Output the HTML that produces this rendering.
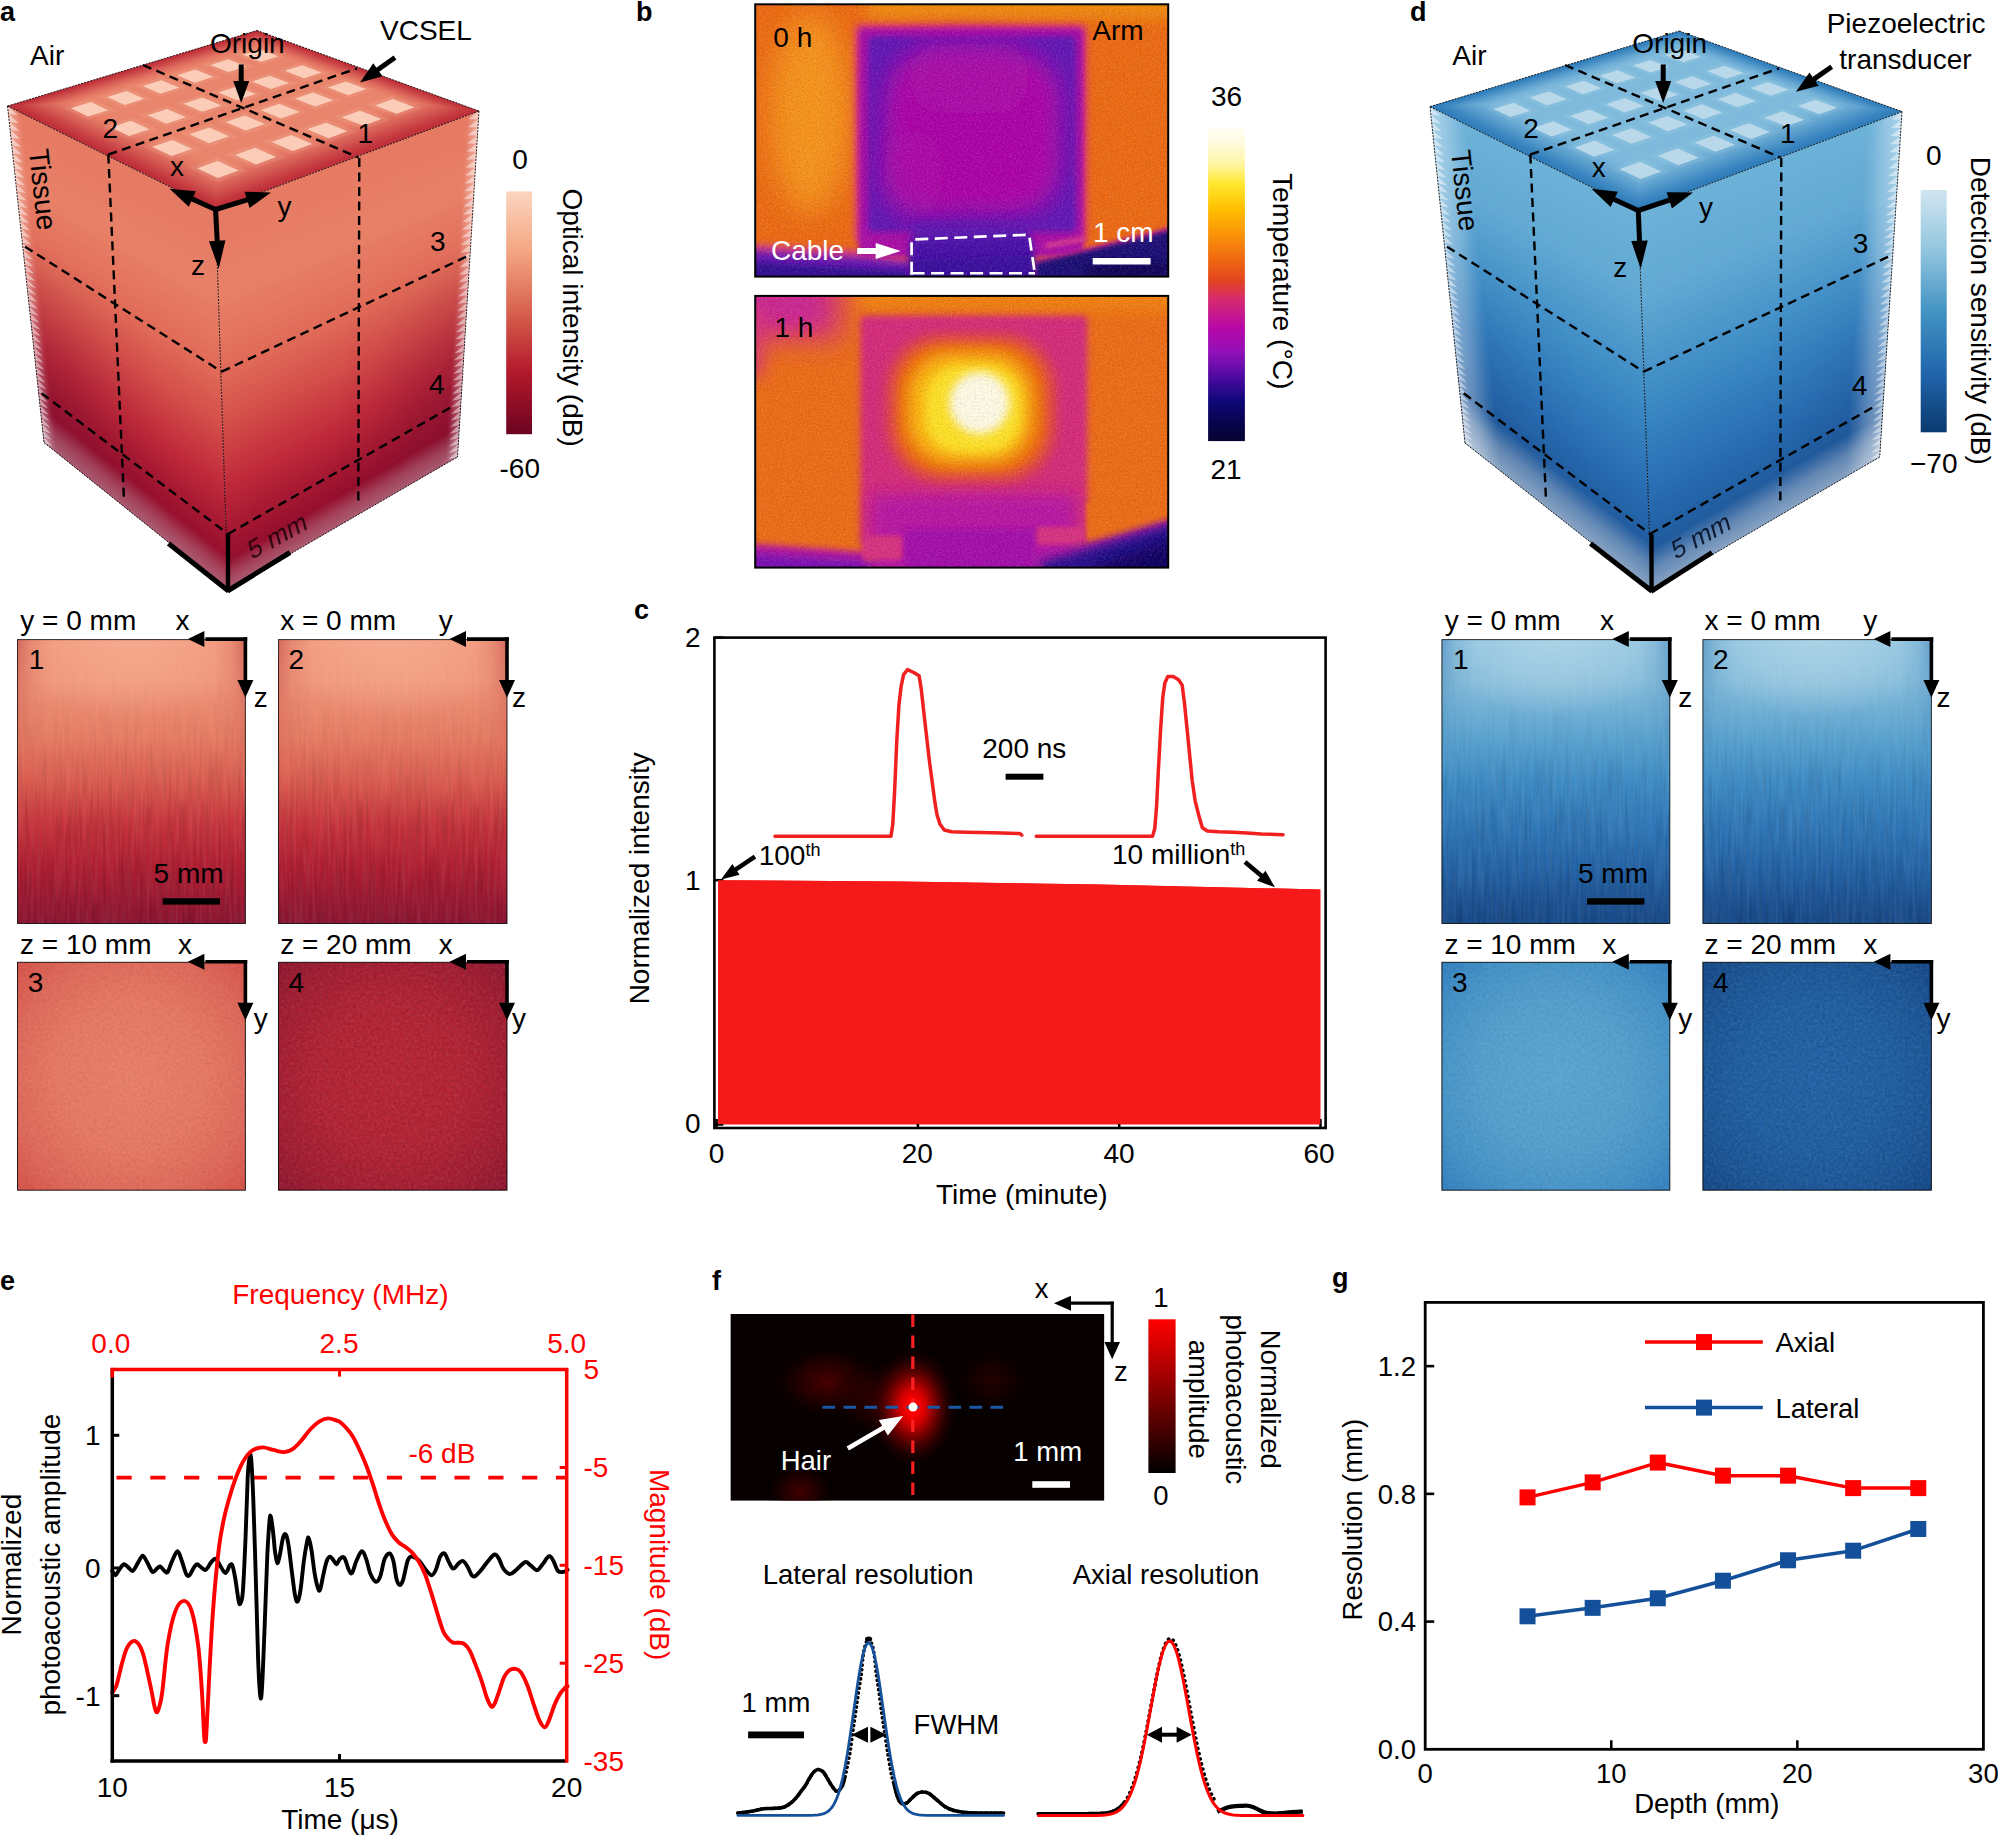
<!DOCTYPE html>
<html><head><meta charset="utf-8"><title>Figure</title>
<style>html,body{margin:0;padding:0;background:#fff}svg{display:block}text{font-family:"Liberation Sans",Arial,sans-serif}</style></head>
<body>
<svg width="1998" height="1837" viewBox="0 0 1998 1837">
<defs>
<linearGradient id="shal" x1="25.75" y1="274.25" x2="145.05" y2="261.31" gradientUnits="userSpaceOnUse"><stop offset="0" stop-color="#7a0f30" stop-opacity="0.42"/><stop offset="0.3" stop-color="#7a0f30" stop-opacity="0.32"/><stop offset="0.7" stop-color="#7a0f30" stop-opacity="0.1"/><stop offset="1" stop-color="#7a0f30" stop-opacity="0"/></linearGradient>
<linearGradient id="shmal" x1="112.34" y1="293.68" x2="44.70" y2="393.55" gradientUnits="userSpaceOnUse"><stop offset="0" stop-color="#000"/><stop offset="1" stop-color="#fff"/></linearGradient>
<mask id="mkal" maskUnits="userSpaceOnUse" x="-10" y="0" width="520" height="620"><rect x="-10" y="0" width="520" height="620" fill="url(#shmal)"/></mask>
<linearGradient id="fral" x1="25.75" y1="274.25" x2="37.68" y2="272.96" gradientUnits="userSpaceOnUse"><stop offset="0" stop-color="#fff" stop-opacity="0.32"/><stop offset="0.45" stop-color="#fff" stop-opacity="0.2"/><stop offset="0.8" stop-color="#fff" stop-opacity="0.06"/><stop offset="1" stop-color="#fff" stop-opacity="0"/></linearGradient>
<linearGradient id="btal" x1="136.00" y1="516.25" x2="152.26" y2="495.96" gradientUnits="userSpaceOnUse"><stop offset="0" stop-color="#fff" stop-opacity="0.32"/><stop offset="0.5" stop-color="#fff" stop-opacity="0.2"/><stop offset="0.85" stop-color="#fff" stop-opacity="0.06"/><stop offset="1" stop-color="#fff" stop-opacity="0"/></linearGradient>
<linearGradient id="shar" x1="468.25" y1="284.00" x2="348.48" y2="276.56" gradientUnits="userSpaceOnUse"><stop offset="0" stop-color="#7a0f30" stop-opacity="0.42"/><stop offset="0.3" stop-color="#7a0f30" stop-opacity="0.32"/><stop offset="0.7" stop-color="#7a0f30" stop-opacity="0.1"/><stop offset="1" stop-color="#7a0f30" stop-opacity="0"/></linearGradient>
<linearGradient id="shmar" x1="354.44" y1="299.06" x2="408.55" y2="408.54" gradientUnits="userSpaceOnUse"><stop offset="0" stop-color="#000"/><stop offset="1" stop-color="#fff"/></linearGradient>
<mask id="mkar" maskUnits="userSpaceOnUse" x="-10" y="0" width="520" height="620"><rect x="-10" y="0" width="520" height="620" fill="url(#shmar)"/></mask>
<linearGradient id="frar" x1="468.25" y1="284.00" x2="456.27" y2="283.26" gradientUnits="userSpaceOnUse"><stop offset="0" stop-color="#fff" stop-opacity="0.32"/><stop offset="0.45" stop-color="#fff" stop-opacity="0.2"/><stop offset="0.8" stop-color="#fff" stop-opacity="0.06"/><stop offset="1" stop-color="#fff" stop-opacity="0"/></linearGradient>
<linearGradient id="btar" x1="342.75" y1="523.50" x2="329.71" y2="501.00" gradientUnits="userSpaceOnUse"><stop offset="0" stop-color="#fff" stop-opacity="0.32"/><stop offset="0.5" stop-color="#fff" stop-opacity="0.2"/><stop offset="0.85" stop-color="#fff" stop-opacity="0.06"/><stop offset="1" stop-color="#fff" stop-opacity="0"/></linearGradient>
<linearGradient id="cba" x1="0" y1="0" x2="0" y2="1" gradientUnits="objectBoundingBox"><stop offset="0" stop-color="#fcd5c0"/><stop offset="0.25" stop-color="#f4a582"/><stop offset="0.5" stop-color="#d6604d"/><stop offset="0.75" stop-color="#b2182b"/><stop offset="1" stop-color="#6c0320"/></linearGradient>
<filter id="streak" x="0" y="0" width="100%" height="100%"><feTurbulence type="fractalNoise" baseFrequency="0.32 0.02" numOctaves="2" seed="5"/><feColorMatrix type="matrix" values="0 0 0 0 0  0 0 0 0 0  0 0 0 0 0  2.2 0 0 0 -0.85"/></filter>
<filter id="streakw" x="0" y="0" width="100%" height="100%"><feTurbulence type="fractalNoise" baseFrequency="0.32 0.02" numOctaves="2" seed="9"/><feColorMatrix type="matrix" values="0 0 0 0 1  0 0 0 0 1  0 0 0 0 1  2.2 0 0 0 -0.85"/></filter>
<filter id="grain" x="0" y="0" width="100%" height="100%"><feTurbulence type="fractalNoise" baseFrequency="0.35" numOctaves="2" seed="7"/><feColorMatrix type="matrix" values="0 0 0 0 0  0 0 0 0 0  0 0 0 0 0  2.0 0 0 0 -0.8"/></filter>
<filter id="grainw" x="0" y="0" width="100%" height="100%"><feTurbulence type="fractalNoise" baseFrequency="0.35" numOctaves="2" seed="13"/><feColorMatrix type="matrix" values="0 0 0 0 1  0 0 0 0 1  0 0 0 0 1  2.0 0 0 0 -0.8"/></filter>
<linearGradient id="sva" x1="0" y1="0" x2="0" y2="1" gradientUnits="objectBoundingBox"><stop offset="0" stop-color="#f0967a"/><stop offset="0.15" stop-color="#ef967a"/><stop offset="0.35" stop-color="#e67c64"/><stop offset="0.5" stop-color="#da5c50"/><stop offset="0.65" stop-color="#c6343c"/><stop offset="0.8" stop-color="#b01f33"/><stop offset="0.92" stop-color="#991932"/><stop offset="1" stop-color="#8c1631"/></linearGradient>
<radialGradient id="sha0" cx="0.5" cy="0.0" r="0.5" gradientUnits="objectBoundingBox" gradientTransform="translate(0.5 0) scale(1.05 0.55) translate(-0.5 0)"><stop offset="0" stop-color="#f8b095" stop-opacity="0.75"/><stop offset="0.5" stop-color="#f8b095" stop-opacity="0.45"/><stop offset="1" stop-color="#f8b095" stop-opacity="0"/></radialGradient>
<linearGradient id="sea0" x1="0" y1="0" x2="1" y2="0" gradientUnits="objectBoundingBox"><stop offset="0" stop-color="#b02a35" stop-opacity="0.42"/><stop offset="0.06" stop-color="#b02a35" stop-opacity="0.14"/><stop offset="0.14" stop-color="#b02a35" stop-opacity="0"/><stop offset="0.86" stop-color="#b02a35" stop-opacity="0"/><stop offset="0.94" stop-color="#b02a35" stop-opacity="0.14"/><stop offset="1" stop-color="#b02a35" stop-opacity="0.42"/></linearGradient>
<linearGradient id="sema0" x1="0" y1="0" x2="0" y2="1" gradientUnits="objectBoundingBox"><stop offset="0" stop-color="#fff"/><stop offset="0.45" stop-color="#000"/></linearGradient>
<mask id="sma0" maskContentUnits="objectBoundingBox"><rect x="0" y="0" width="1" height="1" fill="url(#sema0)"/></mask>
<linearGradient id="stma0" x1="0" y1="0" x2="0" y2="1" gradientUnits="objectBoundingBox"><stop offset="0" stop-color="#000"/><stop offset="0.25" stop-color="#444"/><stop offset="0.6" stop-color="#fff"/></linearGradient>
<mask id="stmka0" maskContentUnits="objectBoundingBox"><rect x="0" y="0" width="1" height="1" fill="url(#stma0)"/></mask>
<radialGradient id="sha1" cx="0.5" cy="0.0" r="0.5" gradientUnits="objectBoundingBox" gradientTransform="translate(0.5 0) scale(1.05 0.55) translate(-0.5 0)"><stop offset="0" stop-color="#f8b095" stop-opacity="0.75"/><stop offset="0.5" stop-color="#f8b095" stop-opacity="0.45"/><stop offset="1" stop-color="#f8b095" stop-opacity="0"/></radialGradient>
<linearGradient id="sea1" x1="0" y1="0" x2="1" y2="0" gradientUnits="objectBoundingBox"><stop offset="0" stop-color="#b02a35" stop-opacity="0.42"/><stop offset="0.06" stop-color="#b02a35" stop-opacity="0.14"/><stop offset="0.14" stop-color="#b02a35" stop-opacity="0"/><stop offset="0.86" stop-color="#b02a35" stop-opacity="0"/><stop offset="0.94" stop-color="#b02a35" stop-opacity="0.14"/><stop offset="1" stop-color="#b02a35" stop-opacity="0.42"/></linearGradient>
<linearGradient id="sema1" x1="0" y1="0" x2="0" y2="1" gradientUnits="objectBoundingBox"><stop offset="0" stop-color="#fff"/><stop offset="0.45" stop-color="#000"/></linearGradient>
<mask id="sma1" maskContentUnits="objectBoundingBox"><rect x="0" y="0" width="1" height="1" fill="url(#sema1)"/></mask>
<linearGradient id="stma1" x1="0" y1="0" x2="0" y2="1" gradientUnits="objectBoundingBox"><stop offset="0" stop-color="#000"/><stop offset="0.25" stop-color="#444"/><stop offset="0.6" stop-color="#fff"/></linearGradient>
<mask id="stmka1" maskContentUnits="objectBoundingBox"><rect x="0" y="0" width="1" height="1" fill="url(#stma1)"/></mask>
<radialGradient id="sra0" cx="0.5" cy="0.5" r="0.72" gradientUnits="objectBoundingBox"><stop offset="0" stop-color="#e9806a"/><stop offset="0.45" stop-color="#e67965"/><stop offset="0.75" stop-color="#df695a"/><stop offset="1" stop-color="#d55249"/></radialGradient>
<radialGradient id="sra1" cx="0.5" cy="0.5" r="0.72" gradientUnits="objectBoundingBox"><stop offset="0" stop-color="#b92636"/><stop offset="0.45" stop-color="#b32435"/><stop offset="0.75" stop-color="#a41e33"/><stop offset="1" stop-color="#8f1730"/></radialGradient>
<filter id="b3" x="-20%" y="-20%" width="140%" height="140%"><feGaussianBlur stdDeviation="3"/></filter>
<filter id="b2" x="-20%" y="-20%" width="140%" height="140%"><feGaussianBlur stdDeviation="2"/></filter>
<filter id="b5" x="-30%" y="-30%" width="160%" height="160%"><feGaussianBlur stdDeviation="5"/></filter>
<filter id="b8" x="-40%" y="-40%" width="180%" height="180%"><feGaussianBlur stdDeviation="8"/></filter>
<filter id="b14" x="-50%" y="-50%" width="200%" height="200%"><feGaussianBlur stdDeviation="14"/></filter>
<filter id="b25" x="-60%" y="-60%" width="220%" height="220%"><feGaussianBlur stdDeviation="25"/></filter>
<filter id="noise" x="0" y="0" width="100%" height="100%"><feTurbulence type="fractalNoise" baseFrequency="0.55" numOctaves="2" seed="3" result="n"/><feColorMatrix type="matrix" values="0 0 0 0 1  0 0 0 0 1  0 0 0 0 1  1.6 0 0 0 -0.62"/></filter>
<filter id="noised" x="0" y="0" width="100%" height="100%"><feTurbulence type="fractalNoise" baseFrequency="0.55" numOctaves="2" seed="11" result="n"/><feColorMatrix type="matrix" values="0 0 0 0 0  0 0 0 0 0  0 0 0 0 0  1.6 0 0 0 -0.62"/></filter>
<clipPath id="th1"><rect x="755.2" y="4.3" width="413.0" height="272.3"/></clipPath>
<clipPath id="th2"><rect x="755.2" y="295.9" width="413.0" height="271.70000000000005"/></clipPath>
<linearGradient id="cbb" x1="0" y1="0" x2="0" y2="1" gradientUnits="objectBoundingBox"><stop offset="0" stop-color="#fffef5"/><stop offset="0.05" stop-color="#fffbe0"/><stop offset="0.12" stop-color="#fff5a0"/><stop offset="0.18" stop-color="#ffe830"/><stop offset="0.26" stop-color="#ffc000"/><stop offset="0.33" stop-color="#fb9a08"/><stop offset="0.42" stop-color="#f06a10"/><stop offset="0.49" stop-color="#e2451f"/><stop offset="0.55" stop-color="#d62a70"/><stop offset="0.64" stop-color="#b808a8"/><stop offset="0.72" stop-color="#9010b8"/><stop offset="0.8" stop-color="#4a0aa0"/><stop offset="0.87" stop-color="#10087a"/><stop offset="0.94" stop-color="#08044e"/><stop offset="1" stop-color="#060330"/></linearGradient>
<linearGradient id="shdl" x1="1447.50" y1="274.80" x2="1566.86" y2="262.38" gradientUnits="userSpaceOnUse"><stop offset="0" stop-color="#123e78" stop-opacity="0.189"/><stop offset="0.3" stop-color="#123e78" stop-opacity="0.14400000000000002"/><stop offset="0.7" stop-color="#123e78" stop-opacity="0.045000000000000005"/><stop offset="1" stop-color="#123e78" stop-opacity="0"/></linearGradient>
<linearGradient id="shmdl" x1="1535.01" y1="293.34" x2="1467.84" y2="393.62" gradientUnits="userSpaceOnUse"><stop offset="0" stop-color="#000"/><stop offset="1" stop-color="#fff"/></linearGradient>
<mask id="mkdl" maskUnits="userSpaceOnUse" x="1412" y="0" width="520" height="620"><rect x="1412" y="0" width="520" height="620" fill="url(#shmdl)"/></mask>
<linearGradient id="frdl" x1="1447.50" y1="274.80" x2="1481.32" y2="271.28" gradientUnits="userSpaceOnUse"><stop offset="0" stop-color="#fff" stop-opacity="0.43200000000000005"/><stop offset="0.45" stop-color="#fff" stop-opacity="0.27"/><stop offset="0.8" stop-color="#fff" stop-opacity="0.081"/><stop offset="1" stop-color="#fff" stop-opacity="0"/></linearGradient>
<linearGradient id="btdl" x1="1558.25" y1="516.65" x2="1580.56" y2="488.40" gradientUnits="userSpaceOnUse"><stop offset="0" stop-color="#fff" stop-opacity="0.48"/><stop offset="0.5" stop-color="#fff" stop-opacity="0.30000000000000004"/><stop offset="0.85" stop-color="#fff" stop-opacity="0.09"/><stop offset="1" stop-color="#fff" stop-opacity="0"/></linearGradient>
<linearGradient id="shdr" x1="1890.85" y1="284.30" x2="1771.10" y2="276.57" gradientUnits="userSpaceOnUse"><stop offset="0" stop-color="#123e78" stop-opacity="0.189"/><stop offset="0.3" stop-color="#123e78" stop-opacity="0.14400000000000002"/><stop offset="0.7" stop-color="#123e78" stop-opacity="0.045000000000000005"/><stop offset="1" stop-color="#123e78" stop-opacity="0"/></linearGradient>
<linearGradient id="shmdr" x1="1777.42" y1="300.12" x2="1831.70" y2="409.15" gradientUnits="userSpaceOnUse"><stop offset="0" stop-color="#000"/><stop offset="1" stop-color="#fff"/></linearGradient>
<mask id="mkdr" maskUnits="userSpaceOnUse" x="1412" y="0" width="520" height="620"><rect x="1412" y="0" width="520" height="620" fill="url(#shmdr)"/></mask>
<linearGradient id="frdr" x1="1890.85" y1="284.30" x2="1856.92" y2="282.11" gradientUnits="userSpaceOnUse"><stop offset="0" stop-color="#fff" stop-opacity="0.43200000000000005"/><stop offset="0.45" stop-color="#fff" stop-opacity="0.27"/><stop offset="0.8" stop-color="#fff" stop-opacity="0.081"/><stop offset="1" stop-color="#fff" stop-opacity="0"/></linearGradient>
<linearGradient id="btdr" x1="1765.60" y1="523.65" x2="1747.44" y2="492.56" gradientUnits="userSpaceOnUse"><stop offset="0" stop-color="#fff" stop-opacity="0.48"/><stop offset="0.5" stop-color="#fff" stop-opacity="0.30000000000000004"/><stop offset="0.85" stop-color="#fff" stop-opacity="0.09"/><stop offset="1" stop-color="#fff" stop-opacity="0"/></linearGradient>
<linearGradient id="cbd" x1="0" y1="0" x2="0" y2="1" gradientUnits="objectBoundingBox"><stop offset="0" stop-color="#d1e5f0"/><stop offset="0.25" stop-color="#92c5de"/><stop offset="0.5" stop-color="#4393c3"/><stop offset="0.75" stop-color="#2166ac"/><stop offset="1" stop-color="#0a3a70"/></linearGradient>
<linearGradient id="svd" x1="0" y1="0" x2="0" y2="1" gradientUnits="objectBoundingBox"><stop offset="0" stop-color="#8fc3df"/><stop offset="0.15" stop-color="#86bddb"/><stop offset="0.35" stop-color="#5ba3d0"/><stop offset="0.5" stop-color="#3f8cc5"/><stop offset="0.65" stop-color="#3078b8"/><stop offset="0.8" stop-color="#2565a8"/><stop offset="0.92" stop-color="#1d5293"/><stop offset="1" stop-color="#184a88"/></linearGradient>
<radialGradient id="shd0" cx="0.5" cy="0.0" r="0.5" gradientUnits="objectBoundingBox" gradientTransform="translate(0.5 0) scale(1.05 0.55) translate(-0.5 0)"><stop offset="0" stop-color="#b5d8ea" stop-opacity="0.75"/><stop offset="0.5" stop-color="#b5d8ea" stop-opacity="0.45"/><stop offset="1" stop-color="#b5d8ea" stop-opacity="0"/></radialGradient>
<linearGradient id="sed0" x1="0" y1="0" x2="1" y2="0" gradientUnits="objectBoundingBox"><stop offset="0" stop-color="#2a70b0" stop-opacity="0.42"/><stop offset="0.06" stop-color="#2a70b0" stop-opacity="0.14"/><stop offset="0.14" stop-color="#2a70b0" stop-opacity="0"/><stop offset="0.86" stop-color="#2a70b0" stop-opacity="0"/><stop offset="0.94" stop-color="#2a70b0" stop-opacity="0.14"/><stop offset="1" stop-color="#2a70b0" stop-opacity="0.42"/></linearGradient>
<linearGradient id="semd0" x1="0" y1="0" x2="0" y2="1" gradientUnits="objectBoundingBox"><stop offset="0" stop-color="#fff"/><stop offset="0.45" stop-color="#000"/></linearGradient>
<mask id="smd0" maskContentUnits="objectBoundingBox"><rect x="0" y="0" width="1" height="1" fill="url(#semd0)"/></mask>
<linearGradient id="stmd0" x1="0" y1="0" x2="0" y2="1" gradientUnits="objectBoundingBox"><stop offset="0" stop-color="#000"/><stop offset="0.25" stop-color="#444"/><stop offset="0.6" stop-color="#fff"/></linearGradient>
<mask id="stmkd0" maskContentUnits="objectBoundingBox"><rect x="0" y="0" width="1" height="1" fill="url(#stmd0)"/></mask>
<radialGradient id="shd1" cx="0.5" cy="0.0" r="0.5" gradientUnits="objectBoundingBox" gradientTransform="translate(0.5 0) scale(1.05 0.55) translate(-0.5 0)"><stop offset="0" stop-color="#b5d8ea" stop-opacity="0.75"/><stop offset="0.5" stop-color="#b5d8ea" stop-opacity="0.45"/><stop offset="1" stop-color="#b5d8ea" stop-opacity="0"/></radialGradient>
<linearGradient id="sed1" x1="0" y1="0" x2="1" y2="0" gradientUnits="objectBoundingBox"><stop offset="0" stop-color="#2a70b0" stop-opacity="0.42"/><stop offset="0.06" stop-color="#2a70b0" stop-opacity="0.14"/><stop offset="0.14" stop-color="#2a70b0" stop-opacity="0"/><stop offset="0.86" stop-color="#2a70b0" stop-opacity="0"/><stop offset="0.94" stop-color="#2a70b0" stop-opacity="0.14"/><stop offset="1" stop-color="#2a70b0" stop-opacity="0.42"/></linearGradient>
<linearGradient id="semd1" x1="0" y1="0" x2="0" y2="1" gradientUnits="objectBoundingBox"><stop offset="0" stop-color="#fff"/><stop offset="0.45" stop-color="#000"/></linearGradient>
<mask id="smd1" maskContentUnits="objectBoundingBox"><rect x="0" y="0" width="1" height="1" fill="url(#semd1)"/></mask>
<linearGradient id="stmd1" x1="0" y1="0" x2="0" y2="1" gradientUnits="objectBoundingBox"><stop offset="0" stop-color="#000"/><stop offset="0.25" stop-color="#444"/><stop offset="0.6" stop-color="#fff"/></linearGradient>
<mask id="stmkd1" maskContentUnits="objectBoundingBox"><rect x="0" y="0" width="1" height="1" fill="url(#stmd1)"/></mask>
<radialGradient id="srd0" cx="0.5" cy="0.5" r="0.72" gradientUnits="objectBoundingBox"><stop offset="0" stop-color="#5ba6d1"/><stop offset="0.45" stop-color="#55a0ce"/><stop offset="0.75" stop-color="#4693c8"/><stop offset="1" stop-color="#3280c0"/></radialGradient>
<radialGradient id="srd1" cx="0.5" cy="0.5" r="0.72" gradientUnits="objectBoundingBox"><stop offset="0" stop-color="#2264a8"/><stop offset="0.45" stop-color="#2060a3"/><stop offset="0.75" stop-color="#1c5698"/><stop offset="1" stop-color="#154888"/></radialGradient>
<clipPath id="fc"><rect x="730.4" y="1314" width="374.0000000000001" height="186.79999999999995"/></clipPath>
<radialGradient id="fg1" cx="912.8" cy="1407.1" r="56" gradientUnits="userSpaceOnUse" gradientTransform="translate(912.8 1407.1) scale(0.82 1.1) translate(-912.8 -1407.1)"><stop offset="0" stop-color="#ff0000" stop-opacity="1"/><stop offset="0.14" stop-color="#fa0000" stop-opacity="1"/><stop offset="0.3" stop-color="#d00000" stop-opacity="0.97"/><stop offset="0.5" stop-color="#880000" stop-opacity="0.85"/><stop offset="0.75" stop-color="#3c0000" stop-opacity="0.55"/><stop offset="1" stop-color="#100000" stop-opacity="0"/></radialGradient>
<radialGradient id="fg2" cx="0.5" cy="0.5" r="0.5" gradientUnits="objectBoundingBox"><stop offset="0" stop-color="#480000" stop-opacity="1"/><stop offset="0.5" stop-color="#300000" stop-opacity="0.7"/><stop offset="1" stop-color="#100000" stop-opacity="0"/></radialGradient>
<linearGradient id="cbf" x1="0" y1="0" x2="0" y2="1" gradientUnits="objectBoundingBox"><stop offset="0" stop-color="#ff0000"/><stop offset="0.5" stop-color="#800000"/><stop offset="1" stop-color="#000000"/></linearGradient>
</defs>
<g id="cubea">
<polygon points="7.50,106.00 215.50,209.50 215.86,220.52 8.53,115.51" fill="#e67a63" />
<polygon points="8.37,113.98 215.80,218.75 216.16,229.69 9.39,123.44" fill="#e67b64" />
<polygon points="9.23,121.92 216.11,227.94 216.46,238.80 10.25,131.32" fill="#e77c64" />
<polygon points="10.08,129.81 216.41,237.06 216.76,247.85 11.10,139.15" fill="#e77c65" />
<polygon points="10.93,137.65 216.70,246.12 217.05,256.83 11.94,146.94" fill="#e77d65" />
<polygon points="11.78,145.45 217.00,255.11 217.35,265.75 12.78,154.68" fill="#e77d66" />
<polygon points="12.62,153.20 217.29,264.04 217.64,274.61 13.62,162.38" fill="#e77e66" />
<polygon points="13.46,160.91 217.58,272.91 217.93,283.40 14.45,170.03" fill="#e87f67" />
<polygon points="14.29,168.57 217.87,281.72 218.21,292.13 15.27,177.64" fill="#e87f67" />
<polygon points="15.11,176.19 218.16,290.46 218.50,300.81 16.09,185.21" fill="#e88068" />
<polygon points="15.93,183.76 218.45,299.15 218.78,309.42 16.91,192.73" fill="#e77e66" />
<polygon points="16.75,191.29 218.73,307.77 219.06,317.98 17.72,200.21" fill="#e67b65" />
<polygon points="17.56,198.78 219.01,316.34 219.34,326.48 18.53,207.65" fill="#e67963" />
<polygon points="18.37,206.22 219.29,324.85 219.62,334.92 19.33,215.04" fill="#e57761" />
<polygon points="19.17,213.63 219.57,333.30 219.90,343.30 20.13,222.40" fill="#e47560" />
<polygon points="19.97,220.99 219.84,341.70 220.17,351.63 20.92,229.71" fill="#e3725e" />
<polygon points="20.77,228.31 220.12,350.03 220.44,359.90 21.71,236.98" fill="#e2705c" />
<polygon points="21.56,235.59 220.39,358.31 220.71,368.11 22.49,244.21" fill="#e16e5b" />
<polygon points="22.34,242.82 220.66,366.54 220.98,376.27 23.27,251.40" fill="#e16b59" />
<polygon points="23.12,250.02 220.93,374.71 221.25,384.38 24.05,258.55" fill="#df6857" />
<polygon points="23.90,257.18 221.19,382.83 221.51,392.43 24.82,265.65" fill="#dd6455" />
<polygon points="24.67,264.29 221.46,390.89 221.77,400.43 25.58,272.72" fill="#db5f53" />
<polygon points="25.44,271.37 221.72,398.90 222.03,408.37 26.35,279.75" fill="#d95b50" />
<polygon points="26.20,278.41 221.98,406.85 222.29,416.27 27.11,286.75" fill="#d7564e" />
<polygon points="26.96,285.41 222.24,414.76 222.55,424.11 27.86,293.70" fill="#d6524c" />
<polygon points="27.72,292.37 222.50,422.61 222.81,431.90 28.61,300.61" fill="#d44e4a" />
<polygon points="28.47,299.29 222.76,430.41 223.06,439.64 29.36,307.49" fill="#d14948" />
<polygon points="29.21,306.17 223.01,438.16 223.31,447.33 30.10,314.33" fill="#cf4546" />
<polygon points="29.96,313.02 223.26,445.86 223.56,454.97 30.84,321.13" fill="#cc4044" />
<polygon points="30.69,319.83 223.52,453.51 223.81,462.56 31.57,327.90" fill="#ca3c42" />
<polygon points="31.43,326.60 223.77,461.11 224.06,470.11 32.30,334.63" fill="#c73740" />
<polygon points="32.16,333.34 224.01,468.66 224.31,477.60 33.02,341.32" fill="#c4333e" />
<polygon points="32.89,340.04 224.26,476.16 224.55,485.05 33.75,347.97" fill="#c22e3c" />
<polygon points="33.61,346.70 224.51,483.62 224.80,492.44 34.46,354.59" fill="#bf2a3a" />
<polygon points="34.33,353.33 224.75,491.03 225.04,499.80 35.18,361.18" fill="#bb2739" />
<polygon points="35.04,359.92 224.99,498.39 225.28,507.10 35.89,367.73" fill="#b72437" />
<polygon points="35.75,366.47 225.23,505.70 225.52,514.36 36.60,374.24" fill="#b32136" />
<polygon points="36.46,372.99 225.47,512.97 225.75,521.58 37.30,380.72" fill="#ae1e34" />
<polygon points="37.16,379.48 225.71,520.19 225.99,528.74 38.00,387.17" fill="#aa1b33" />
<polygon points="37.86,385.93 225.94,527.37 226.22,535.87 38.69,393.58" fill="#a61932" />
<polygon points="38.56,392.35 226.18,534.50 226.45,542.95 39.39,399.96" fill="#a11631" />
<polygon points="39.25,398.74 226.41,541.59 226.69,549.98 40.07,406.30" fill="#9d1330" />
<polygon points="39.94,405.09 226.64,548.64 226.92,556.98 40.76,412.61" fill="#99112f" />
<polygon points="40.63,411.40 226.87,555.64 227.14,563.93 41.44,418.89" fill="#950f2e" />
<polygon points="41.31,417.69 227.10,562.59 227.37,570.83 42.12,425.14" fill="#910f2e" />
<polygon points="41.99,423.94 227.33,569.51 227.60,577.70 42.79,431.35" fill="#8e0f2e" />
<polygon points="42.66,430.16 227.55,576.38 227.82,584.52 43.46,437.53" fill="#8a102f" />
<polygon points="43.33,436.35 227.78,583.21 228.00,590.00 44.00,442.50" fill="#87102f" />
<polygon points="215.50,209.50 479.00,111.00 478.39,120.77 215.86,220.45" fill="#e67a63" />
<polygon points="215.80,218.69 478.49,119.20 477.89,128.91 216.16,229.57" fill="#e67b64" />
<polygon points="216.10,227.82 477.98,127.35 477.38,137.00 216.46,238.62" fill="#e77c64" />
<polygon points="216.40,236.89 477.48,135.45 476.88,145.05 216.75,247.62" fill="#e77c65" />
<polygon points="216.70,245.89 476.98,143.50 476.39,153.05 217.05,256.55" fill="#e77d65" />
<polygon points="216.99,254.84 476.48,151.51 475.89,161.00 217.34,265.42" fill="#e77d66" />
<polygon points="217.28,263.73 475.99,159.48 475.40,168.91 217.63,274.24" fill="#e77e66" />
<polygon points="217.57,272.55 475.50,167.39 474.91,176.77 217.91,283.00" fill="#e87f67" />
<polygon points="217.86,281.32 475.01,175.27 474.43,184.59 218.20,291.70" fill="#e87f67" />
<polygon points="218.15,290.03 474.52,183.09 473.94,192.36 218.48,300.34" fill="#e88068" />
<polygon points="218.43,298.69 474.04,190.87 473.46,200.09 218.77,308.93" fill="#e77e66" />
<polygon points="218.71,307.28 473.56,198.61 472.99,207.78 219.05,317.46" fill="#e67b65" />
<polygon points="218.99,315.82 473.08,206.31 472.51,215.42 219.32,325.93" fill="#e67963" />
<polygon points="219.27,324.31 472.60,213.96 472.04,223.02 219.60,334.35" fill="#e57761" />
<polygon points="219.55,332.74 472.13,221.57 471.57,230.58 219.88,342.71" fill="#e47560" />
<polygon points="219.82,341.11 471.66,229.13 471.10,238.09 220.15,351.03" fill="#e3725e" />
<polygon points="220.10,349.43 471.19,236.66 470.64,245.57 220.42,359.28" fill="#e2705c" />
<polygon points="220.37,357.70 470.73,244.14 470.18,253.00 220.69,367.49" fill="#e16e5b" />
<polygon points="220.64,365.92 470.26,251.58 469.72,260.39 220.96,375.64" fill="#e16b59" />
<polygon points="220.91,374.08 469.81,258.97 469.26,267.74 221.22,383.74" fill="#df6857" />
<polygon points="221.17,382.19 469.35,266.33 468.81,275.05 221.49,391.79" fill="#dd6455" />
<polygon points="221.44,390.25 468.89,273.65 468.35,282.32 221.75,399.79" fill="#db5f53" />
<polygon points="221.70,398.25 468.44,280.92 467.91,289.55 222.01,407.73" fill="#d95b50" />
<polygon points="221.96,406.21 467.99,288.16 467.46,296.74 222.27,415.63" fill="#d7564e" />
<polygon points="222.22,414.12 467.54,295.36 467.01,303.89 222.53,423.48" fill="#d6524c" />
<polygon points="222.48,421.97 467.10,302.52 466.57,311.00 222.79,431.28" fill="#d44e4a" />
<polygon points="222.74,429.78 466.66,309.63 466.13,318.07 223.04,439.03" fill="#d14948" />
<polygon points="222.99,437.54 466.22,316.71 465.70,325.10 223.29,446.73" fill="#cf4546" />
<polygon points="223.24,445.25 465.78,323.76 465.26,332.10 223.54,454.38" fill="#cc4044" />
<polygon points="223.50,452.92 465.34,330.76 464.83,339.06 223.79,461.99" fill="#ca3c42" />
<polygon points="223.75,460.53 464.91,337.73 464.40,345.98 224.04,469.55" fill="#c73740" />
<polygon points="224.00,468.10 464.48,344.65 463.97,352.87 224.29,477.06" fill="#c4333e" />
<polygon points="224.24,475.62 464.05,351.55 463.55,359.71 224.54,484.53" fill="#c22e3c" />
<polygon points="224.49,483.10 463.63,358.40 463.12,366.52 224.78,491.95" fill="#bf2a3a" />
<polygon points="224.73,490.53 463.20,365.22 462.70,373.30 225.02,499.33" fill="#bb2739" />
<polygon points="224.97,497.92 462.78,372.00 462.28,380.04 225.26,506.66" fill="#b72437" />
<polygon points="225.22,505.26 462.36,378.75 461.87,386.74 225.50,513.95" fill="#b32136" />
<polygon points="225.46,512.55 461.95,385.46 461.45,393.41 225.74,521.20" fill="#ae1e34" />
<polygon points="225.69,519.81 461.53,392.13 461.04,400.04 225.98,528.40" fill="#aa1b33" />
<polygon points="225.93,527.02 461.12,398.77 460.63,406.64 226.21,535.55" fill="#a61932" />
<polygon points="226.17,534.18 460.71,405.38 460.22,413.21 226.45,542.67" fill="#a11631" />
<polygon points="226.40,541.31 460.30,411.95 459.82,419.74 226.68,549.74" fill="#9d1330" />
<polygon points="226.63,548.39 459.89,418.49 459.41,426.23 226.91,556.77" fill="#99112f" />
<polygon points="226.86,555.42 459.49,424.99 459.01,432.70 227.14,563.76" fill="#950f2e" />
<polygon points="227.09,562.42 459.09,431.46 458.61,439.12 227.37,570.71" fill="#910f2e" />
<polygon points="227.32,569.38 458.69,437.89 458.21,445.52 227.59,577.61" fill="#8e0f2e" />
<polygon points="227.55,576.29 458.29,444.29 457.82,451.88 227.82,584.48" fill="#8a102f" />
<polygon points="227.78,583.17 457.89,450.66 457.50,457.00 228.00,590.00" fill="#87102f" />
<polygon points="7.50,106.00 215.50,209.50 228.00,590.00 44.00,442.50" fill="url(#shal)" mask="url(#mkal)"/>
<polygon points="7.50,106.00 215.50,209.50 228.00,590.00 44.00,442.50" fill="url(#fral)" />
<polygon points="7.50,106.00 8.37,113.98 17.77,114.93" fill="#fff" opacity="0.45"/>
<polygon points="8.37,113.98 9.23,121.92 18.60,122.94" fill="#fff" opacity="0.45"/>
<polygon points="9.23,121.92 10.08,129.81 19.43,130.91" fill="#fff" opacity="0.45"/>
<polygon points="10.08,129.81 10.93,137.65 20.25,138.84" fill="#fff" opacity="0.45"/>
<polygon points="10.93,137.65 11.78,145.45 21.07,146.71" fill="#fff" opacity="0.45"/>
<polygon points="11.78,145.45 12.62,153.20 21.89,154.54" fill="#fff" opacity="0.45"/>
<polygon points="12.62,153.20 13.46,160.91 22.70,162.32" fill="#fff" opacity="0.45"/>
<polygon points="13.46,160.91 14.29,168.57 23.50,170.06" fill="#fff" opacity="0.45"/>
<polygon points="14.29,168.57 15.11,176.19 24.30,177.75" fill="#fff" opacity="0.45"/>
<polygon points="15.11,176.19 15.93,183.76 25.10,185.40" fill="#fff" opacity="0.45"/>
<polygon points="15.93,183.76 16.75,191.29 25.89,193.00" fill="#fff" opacity="0.45"/>
<polygon points="16.75,191.29 17.56,198.78 26.67,200.56" fill="#fff" opacity="0.45"/>
<polygon points="17.56,198.78 18.37,206.22 27.45,208.08" fill="#fff" opacity="0.45"/>
<polygon points="18.37,206.22 19.17,213.63 28.23,215.55" fill="#fff" opacity="0.45"/>
<polygon points="19.17,213.63 19.97,220.99 29.00,222.98" fill="#fff" opacity="0.45"/>
<polygon points="19.97,220.99 20.77,228.31 29.77,230.36" fill="#fff" opacity="0.45"/>
<polygon points="20.77,228.31 21.56,235.59 30.54,237.71" fill="#fff" opacity="0.45"/>
<polygon points="21.56,235.59 22.34,242.82 31.30,245.01" fill="#fff" opacity="0.45"/>
<polygon points="22.34,242.82 23.12,250.02 32.05,252.27" fill="#fff" opacity="0.45"/>
<polygon points="23.12,250.02 23.90,257.18 32.80,259.49" fill="#fff" opacity="0.45"/>
<polygon points="23.90,257.18 24.67,264.29 33.55,266.67" fill="#fff" opacity="0.45"/>
<polygon points="24.67,264.29 25.44,271.37 34.29,273.81" fill="#fff" opacity="0.45"/>
<polygon points="25.44,271.37 26.20,278.41 35.03,280.91" fill="#fff" opacity="0.45"/>
<polygon points="26.20,278.41 26.96,285.41 35.77,287.97" fill="#fff" opacity="0.45"/>
<polygon points="26.96,285.41 27.72,292.37 36.50,294.99" fill="#fff" opacity="0.45"/>
<polygon points="27.72,292.37 28.47,299.29 37.22,301.97" fill="#fff" opacity="0.45"/>
<polygon points="28.47,299.29 29.21,306.17 37.94,308.91" fill="#fff" opacity="0.45"/>
<polygon points="29.21,306.17 29.96,313.02 38.66,315.81" fill="#fff" opacity="0.45"/>
<polygon points="29.96,313.02 30.69,319.83 39.38,322.68" fill="#fff" opacity="0.45"/>
<polygon points="30.69,319.83 31.43,326.60 40.09,329.51" fill="#fff" opacity="0.45"/>
<polygon points="31.43,326.60 32.16,333.34 40.80,336.30" fill="#fff" opacity="0.45"/>
<polygon points="32.16,333.34 32.89,340.04 41.50,343.05" fill="#fff" opacity="0.45"/>
<polygon points="32.89,340.04 33.61,346.70 42.20,349.77" fill="#fff" opacity="0.45"/>
<polygon points="33.61,346.70 34.33,353.33 42.89,356.45" fill="#fff" opacity="0.45"/>
<polygon points="34.33,353.33 35.04,359.92 43.59,363.09" fill="#fff" opacity="0.45"/>
<polygon points="35.04,359.92 35.75,366.47 44.27,369.70" fill="#fff" opacity="0.45"/>
<polygon points="35.75,366.47 36.46,372.99 44.96,376.27" fill="#fff" opacity="0.45"/>
<polygon points="36.46,372.99 37.16,379.48 45.64,382.81" fill="#fff" opacity="0.45"/>
<polygon points="37.16,379.48 37.86,385.93 46.32,389.31" fill="#fff" opacity="0.45"/>
<polygon points="37.86,385.93 38.56,392.35 46.99,395.77" fill="#fff" opacity="0.45"/>
<polygon points="38.56,392.35 39.25,398.74 47.66,402.21" fill="#fff" opacity="0.45"/>
<polygon points="39.25,398.74 39.94,405.09 48.33,408.61" fill="#fff" opacity="0.45"/>
<polygon points="39.94,405.09 40.63,411.40 48.99,414.97" fill="#fff" opacity="0.45"/>
<polygon points="40.63,411.40 41.31,417.69 49.65,421.30" fill="#fff" opacity="0.45"/>
<polygon points="41.31,417.69 41.99,423.94 50.31,427.60" fill="#fff" opacity="0.45"/>
<polygon points="41.99,423.94 42.66,430.16 50.96,433.86" fill="#fff" opacity="0.45"/>
<polygon points="42.66,430.16 43.33,436.35 51.61,440.09" fill="#fff" opacity="0.45"/>
<polygon points="43.33,436.35 44.00,442.50 52.26,446.29" fill="#fff" opacity="0.45"/>
<polygon points="7.50,106.00 215.50,209.50 228.00,590.00 44.00,442.50" fill="url(#btal)" />
<polygon points="215.50,209.50 479.00,111.00 457.50,457.00 228.00,590.00" fill="url(#shar)" mask="url(#mkar)"/>
<polygon points="215.50,209.50 479.00,111.00 457.50,457.00 228.00,590.00" fill="url(#frar)" />
<polygon points="479.00,111.00 478.49,119.20 468.45,118.98" fill="#fff" opacity="0.45"/>
<polygon points="478.49,119.20 477.98,127.35 467.96,127.20" fill="#fff" opacity="0.45"/>
<polygon points="477.98,127.35 477.48,135.45 467.47,135.37" fill="#fff" opacity="0.45"/>
<polygon points="477.48,135.45 476.98,143.50 466.99,143.49" fill="#fff" opacity="0.45"/>
<polygon points="476.98,143.50 476.48,151.51 466.50,151.56" fill="#fff" opacity="0.45"/>
<polygon points="476.48,151.51 475.99,159.48 466.02,159.59" fill="#fff" opacity="0.45"/>
<polygon points="475.99,159.48 475.50,167.39 465.55,167.57" fill="#fff" opacity="0.45"/>
<polygon points="475.50,167.39 475.01,175.27 465.07,175.51" fill="#fff" opacity="0.45"/>
<polygon points="475.01,175.27 474.52,183.09 464.60,183.40" fill="#fff" opacity="0.45"/>
<polygon points="474.52,183.09 474.04,190.87 464.13,191.24" fill="#fff" opacity="0.45"/>
<polygon points="474.04,190.87 473.56,198.61 463.67,199.04" fill="#fff" opacity="0.45"/>
<polygon points="473.56,198.61 473.08,206.31 463.21,206.80" fill="#fff" opacity="0.45"/>
<polygon points="473.08,206.31 472.60,213.96 462.75,214.51" fill="#fff" opacity="0.45"/>
<polygon points="472.60,213.96 472.13,221.57 462.29,222.18" fill="#fff" opacity="0.45"/>
<polygon points="472.13,221.57 471.66,229.13 461.83,229.81" fill="#fff" opacity="0.45"/>
<polygon points="471.66,229.13 471.19,236.66 461.38,237.39" fill="#fff" opacity="0.45"/>
<polygon points="471.19,236.66 470.73,244.14 460.93,244.93" fill="#fff" opacity="0.45"/>
<polygon points="470.73,244.14 470.26,251.58 460.49,252.42" fill="#fff" opacity="0.45"/>
<polygon points="470.26,251.58 469.81,258.97 460.04,259.88" fill="#fff" opacity="0.45"/>
<polygon points="469.81,258.97 469.35,266.33 459.60,267.29" fill="#fff" opacity="0.45"/>
<polygon points="469.35,266.33 468.89,273.65 459.16,274.67" fill="#fff" opacity="0.45"/>
<polygon points="468.89,273.65 468.44,280.92 458.72,282.00" fill="#fff" opacity="0.45"/>
<polygon points="468.44,280.92 467.99,288.16 458.29,289.29" fill="#fff" opacity="0.45"/>
<polygon points="467.99,288.16 467.54,295.36 457.86,296.54" fill="#fff" opacity="0.45"/>
<polygon points="467.54,295.36 467.10,302.52 457.43,303.75" fill="#fff" opacity="0.45"/>
<polygon points="467.10,302.52 466.66,309.63 457.00,310.92" fill="#fff" opacity="0.45"/>
<polygon points="466.66,309.63 466.22,316.71 456.58,318.06" fill="#fff" opacity="0.45"/>
<polygon points="466.22,316.71 465.78,323.76 456.15,325.15" fill="#fff" opacity="0.45"/>
<polygon points="465.78,323.76 465.34,330.76 455.73,332.21" fill="#fff" opacity="0.45"/>
<polygon points="465.34,330.76 464.91,337.73 455.32,339.22" fill="#fff" opacity="0.45"/>
<polygon points="464.91,337.73 464.48,344.65 454.90,346.20" fill="#fff" opacity="0.45"/>
<polygon points="464.48,344.65 464.05,351.55 454.49,353.14" fill="#fff" opacity="0.45"/>
<polygon points="464.05,351.55 463.63,358.40 454.08,360.05" fill="#fff" opacity="0.45"/>
<polygon points="463.63,358.40 463.20,365.22 453.67,366.92" fill="#fff" opacity="0.45"/>
<polygon points="463.20,365.22 462.78,372.00 453.26,373.75" fill="#fff" opacity="0.45"/>
<polygon points="462.78,372.00 462.36,378.75 452.86,380.54" fill="#fff" opacity="0.45"/>
<polygon points="462.36,378.75 461.95,385.46 452.46,387.30" fill="#fff" opacity="0.45"/>
<polygon points="461.95,385.46 461.53,392.13 452.06,394.02" fill="#fff" opacity="0.45"/>
<polygon points="461.53,392.13 461.12,398.77 451.66,400.71" fill="#fff" opacity="0.45"/>
<polygon points="461.12,398.77 460.71,405.38 451.26,407.36" fill="#fff" opacity="0.45"/>
<polygon points="460.71,405.38 460.30,411.95 450.87,413.98" fill="#fff" opacity="0.45"/>
<polygon points="460.30,411.95 459.89,418.49 450.48,420.56" fill="#fff" opacity="0.45"/>
<polygon points="459.89,418.49 459.49,424.99 450.09,427.11" fill="#fff" opacity="0.45"/>
<polygon points="459.49,424.99 459.09,431.46 449.70,433.62" fill="#fff" opacity="0.45"/>
<polygon points="459.09,431.46 458.69,437.89 449.32,440.10" fill="#fff" opacity="0.45"/>
<polygon points="458.69,437.89 458.29,444.29 448.93,446.55" fill="#fff" opacity="0.45"/>
<polygon points="458.29,444.29 457.89,450.66 448.55,452.96" fill="#fff" opacity="0.45"/>
<polygon points="457.89,450.66 457.50,457.00 448.17,459.34" fill="#fff" opacity="0.45"/>
<polygon points="215.50,209.50 479.00,111.00 457.50,457.00 228.00,590.00" fill="url(#btar)" />
<polygon points="7.50,106.00 257.00,30.50 479.00,111.00 215.50,209.50" fill="#bf2f39" />
<polygon points="11.19,105.83 257.00,31.36 474.99,110.53 215.64,207.23" fill="#c0323b" />
<polygon points="14.88,105.67 257.00,32.22 470.99,110.06 215.78,204.98" fill="#c3363d" />
<polygon points="18.57,105.50 257.00,33.08 467.00,109.59 215.91,202.74" fill="#c53b40" />
<polygon points="22.25,105.33 257.00,33.94 463.02,109.12 216.05,200.52" fill="#c84144" />
<polygon points="25.94,105.16 257.00,34.81 459.04,108.66 216.19,198.30" fill="#cb4647" />
<polygon points="29.63,105.00 257.01,35.68 455.07,108.19 216.32,196.10" fill="#ce4c4b" />
<polygon points="33.32,104.83 257.01,36.55 451.11,107.73 216.46,193.91" fill="#d0524e" />
<polygon points="37.01,104.66 257.01,37.43 447.15,107.26 216.59,191.74" fill="#d35852" />
<polygon points="40.69,104.50 257.01,38.30 443.20,106.80 216.72,189.57" fill="#d65e55" />
<polygon points="44.38,104.33 257.01,39.18 439.26,106.34 216.85,187.42" fill="#d96359" />
<polygon points="48.07,104.16 257.01,40.06 435.33,105.88 216.98,185.28" fill="#dc685c" />
<polygon points="51.75,103.99 257.01,40.95 431.40,105.42 217.11,183.16" fill="#de6d5f" />
<polygon points="55.44,103.83 257.01,41.84 427.48,104.96 217.24,181.04" fill="#e17262" />
<polygon points="59.13,103.66 257.01,42.73 423.57,104.50 217.37,178.94" fill="#e37664" />
<polygon points="62.82,103.49 257.01,43.62 419.66,104.04 217.50,176.85" fill="#e57a66" />
<polygon points="66.50,103.33 257.01,44.51 415.77,103.58 217.63,174.77" fill="#e67d68" />
<polygon points="70.19,103.16 257.02,45.41 411.88,103.13 217.76,172.70" fill="#e8806a" />
<polygon points="73.87,102.99 257.02,46.31 407.99,102.67 217.88,170.65" fill="#e9826b" />
<polygon points="77.56,102.83 257.02,47.21 404.12,102.22 218.01,168.60" fill="#e9846c" />
<polygon points="81.25,102.66 257.02,48.12 400.25,101.76 218.13,166.57" fill="#ea856d" />
<polygon points="84.93,102.49 257.02,49.03 396.38,101.31 218.26,164.54" fill="#ea856d" />
<polygon points="62.56,107.93 91.45,98.97 116.59,110.55 87.45,119.82" fill="#fbcdb8" opacity="0.13"/>
<polygon points="70.90,108.33 90.84,102.12 108.16,110.14 88.08,116.50" fill="#fbcdb8" />
<polygon points="102.09,126.81 131.38,117.36 158.09,129.66 128.55,139.45" fill="#fbcdb8" opacity="0.13"/>
<polygon points="110.73,127.25 130.95,120.69 149.35,129.21 129.00,135.93" fill="#fbcdb8" />
<polygon points="143.07,146.39 172.75,136.41 201.14,149.48 171.20,159.83" fill="#fbcdb8" opacity="0.13"/>
<polygon points="152.02,146.87 172.52,139.94 192.07,148.99 171.45,156.10" fill="#fbcdb8" />
<polygon points="187.79,167.76 217.87,157.18 248.14,171.12 217.82,182.10" fill="#fbcdb8" opacity="0.13"/>
<polygon points="197.09,168.27 217.86,160.94 238.71,170.59 217.83,178.12" fill="#fbcdb8" />
<polygon points="99.06,96.61 127.11,87.91 152.55,99.11 124.27,108.11" fill="#fbcdb8" opacity="0.13"/>
<polygon points="107.31,97.00 126.68,90.97 144.20,98.72 124.72,104.89" fill="#fbcdb8" />
<polygon points="139.10,114.87 167.52,105.69 194.52,117.58 165.87,127.08" fill="#fbcdb8" opacity="0.13"/>
<polygon points="147.64,115.28 167.27,108.92 185.87,117.16 166.13,123.67" fill="#fbcdb8" />
<polygon points="180.57,133.78 209.34,124.10 238.01,136.72 209.02,146.75" fill="#fbcdb8" opacity="0.13"/>
<polygon points="189.42,134.23 209.29,127.52 229.04,136.26 209.07,143.14" fill="#fbcdb8" />
<polygon points="225.78,154.39 254.90,144.15 285.45,157.59 256.11,168.23" fill="#fbcdb8" opacity="0.13"/>
<polygon points="234.98,154.89 255.08,147.78 276.13,157.09 255.92,164.38" fill="#fbcdb8" />
<polygon points="134.50,85.62 161.75,77.17 187.47,88.01 160.01,96.74" fill="#fbcdb8" opacity="0.13"/>
<polygon points="142.67,85.99 161.49,80.13 179.20,87.63 160.29,93.63" fill="#fbcdb8" />
<polygon points="175.00,103.28 202.59,94.37 229.86,105.86 202.07,115.08" fill="#fbcdb8" opacity="0.13"/>
<polygon points="183.46,103.68 202.51,97.50 221.30,105.46 202.15,111.78" fill="#fbcdb8" />
<polygon points="216.91,121.55 244.82,112.16 273.75,124.35 245.64,134.08" fill="#fbcdb8" opacity="0.13"/>
<polygon points="225.68,121.98 244.94,115.47 264.87,123.91 245.51,130.58" fill="#fbcdb8" />
<polygon points="262.57,141.45 290.78,131.53 321.57,144.50 293.17,154.79" fill="#fbcdb8" opacity="0.13"/>
<polygon points="271.66,141.92 291.14,135.04 312.35,144.02 292.79,151.08" fill="#fbcdb8" />
<polygon points="168.94,74.94 195.42,66.73 221.39,77.22 194.71,85.70" fill="#fbcdb8" opacity="0.13"/>
<polygon points="177.03,75.29 195.31,69.60 213.20,76.86 194.82,82.69" fill="#fbcdb8" />
<polygon points="209.86,92.03 236.64,83.38 264.16,94.49 237.18,103.44" fill="#fbcdb8" opacity="0.13"/>
<polygon points="218.23,92.41 236.72,86.41 255.68,94.11 237.10,100.24" fill="#fbcdb8" />
<polygon points="252.17,109.69 279.24,100.59 308.39,112.36 281.15,121.79" fill="#fbcdb8" opacity="0.13"/>
<polygon points="260.84,110.10 279.52,103.79 299.61,111.95 280.84,118.41" fill="#fbcdb8" />
<polygon points="298.21,128.91 325.55,119.29 356.56,131.82 329.05,141.79" fill="#fbcdb8" opacity="0.13"/>
<polygon points="307.20,129.36 326.08,122.69 347.45,131.36 328.49,138.20" fill="#fbcdb8" />
<polygon points="202.41,64.57 228.16,56.58 254.35,66.74 228.42,74.98" fill="#fbcdb8" opacity="0.13"/>
<polygon points="210.42,64.90 228.20,59.37 246.24,66.40 228.38,72.06" fill="#fbcdb8" />
<polygon points="243.70,81.10 269.73,72.70 297.45,83.46 271.26,92.14" fill="#fbcdb8" opacity="0.13"/>
<polygon points="251.99,81.47 269.96,75.64 289.06,83.09 271.02,89.04" fill="#fbcdb8" />
<polygon points="286.37,98.19 312.64,89.35 342.01,100.73 315.57,109.88" fill="#fbcdb8" opacity="0.13"/>
<polygon points="294.95,98.58 313.09,92.45 333.32,100.34 315.11,106.61" fill="#fbcdb8" />
<polygon points="332.76,116.76 359.28,107.43 390.47,119.53 363.80,129.19" fill="#fbcdb8" opacity="0.13"/>
<polygon points="341.66,117.19 359.96,110.72 381.46,119.10 363.08,125.72" fill="#fbcdb8" />
<polygon points="234.95,54.48 259.99,46.71 286.38,56.55 261.18,64.56" fill="#fbcdb8" opacity="0.13"/>
<polygon points="242.88,54.80 260.17,49.41 278.36,56.23 260.99,61.73" fill="#fbcdb8" />
<polygon points="276.59,70.49 301.88,62.33 329.79,72.73 304.36,81.17" fill="#fbcdb8" opacity="0.13"/>
<polygon points="284.79,70.83 302.25,65.18 321.49,72.38 303.96,78.17" fill="#fbcdb8" />
<polygon points="319.57,87.02 345.08,78.43 374.62,89.45 348.97,98.32" fill="#fbcdb8" opacity="0.13"/>
<polygon points="328.06,87.39 345.67,81.44 366.03,89.07 348.35,95.16" fill="#fbcdb8" />
<polygon points="366.26,104.97 391.99,95.92 423.35,107.61 397.49,116.98" fill="#fbcdb8" opacity="0.13"/>
<polygon points="375.07,105.38 392.82,99.10 414.43,107.20 396.61,113.63" fill="#fbcdb8" />
<line x1="7.50" y1="106.00" x2="257.00" y2="30.50" stroke="#000" stroke-width="1.0" stroke-linecap="butt" stroke-dasharray="2 1.2" opacity="0.85"/>
<line x1="257.00" y1="30.50" x2="479.00" y2="111.00" stroke="#000" stroke-width="1.0" stroke-linecap="butt" stroke-dasharray="2 1.2" opacity="0.85"/>
<line x1="479.00" y1="111.00" x2="215.50" y2="209.50" stroke="#000" stroke-width="1.0" stroke-linecap="butt" stroke-dasharray="2 1.2" opacity="0.85"/>
<line x1="215.50" y1="209.50" x2="7.50" y2="106.00" stroke="#000" stroke-width="1.0" stroke-linecap="butt" stroke-dasharray="2 1.2" opacity="0.85"/>
<line x1="7.50" y1="106.00" x2="44.00" y2="442.50" stroke="#000" stroke-width="1.0" stroke-linecap="butt" stroke-dasharray="2 1.2" opacity="0.85"/>
<line x1="479.00" y1="111.00" x2="457.50" y2="457.00" stroke="#000" stroke-width="1.0" stroke-linecap="butt" stroke-dasharray="2 1.2" opacity="0.85"/>
<line x1="215.50" y1="209.50" x2="228.00" y2="590.00" stroke="#000" stroke-width="1.0" stroke-linecap="butt" stroke-dasharray="2 1.2" opacity="0.85"/>
<line x1="44.00" y1="442.50" x2="228.00" y2="590.00" stroke="#000" stroke-width="1.0" stroke-linecap="butt" stroke-dasharray="2 1.2" opacity="0.85"/>
<line x1="228.00" y1="590.00" x2="457.50" y2="457.00" stroke="#000" stroke-width="1.0" stroke-linecap="butt" stroke-dasharray="2 1.2" opacity="0.85"/>
<line x1="143.00" y1="65.00" x2="358.50" y2="157.50" stroke="#000" stroke-width="2.4" stroke-linecap="butt" stroke-dasharray="9 5.5"/>
<line x1="108.30" y1="154.50" x2="357.00" y2="68.50" stroke="#000" stroke-width="2.4" stroke-linecap="butt" stroke-dasharray="9 5.5"/>
<line x1="108.30" y1="154.50" x2="124.00" y2="500.00" stroke="#000" stroke-width="2.4" stroke-linecap="butt" stroke-dasharray="9 5.5"/>
<line x1="359.30" y1="158.00" x2="358.30" y2="505.00" stroke="#000" stroke-width="2.4" stroke-linecap="butt" stroke-dasharray="9 5.5"/>
<line x1="25.00" y1="246.70" x2="221.70" y2="371.70" stroke="#000" stroke-width="2.4" stroke-linecap="butt" stroke-dasharray="9 5.5"/>
<line x1="221.70" y1="371.70" x2="470.00" y2="255.00" stroke="#000" stroke-width="2.4" stroke-linecap="butt" stroke-dasharray="9 5.5"/>
<line x1="41.70" y1="393.30" x2="228.00" y2="534.00" stroke="#000" stroke-width="2.4" stroke-linecap="butt" stroke-dasharray="9 5.5"/>
<line x1="228.00" y1="534.00" x2="455.00" y2="405.00" stroke="#000" stroke-width="2.4" stroke-linecap="butt" stroke-dasharray="9 5.5"/>
<line x1="228.00" y1="534.00" x2="228.00" y2="590.00" stroke="#000" stroke-width="4.4" stroke-linecap="butt"/>
<line x1="228.50" y1="591.00" x2="168.50" y2="543.50" stroke="#000" stroke-width="5" stroke-linecap="butt"/>
<line x1="227.50" y1="591.00" x2="290.00" y2="552.50" stroke="#000" stroke-width="5" stroke-linecap="butt"/>
<line x1="215.50" y1="209.50" x2="191.39" y2="198.65" stroke="#000" stroke-width="5" stroke-linecap="butt"/>
<polygon points="169.50,188.80 195.79,191.31 192.30,199.06 188.81,206.81" fill="#000" />
<line x1="215.50" y1="209.50" x2="248.05" y2="199.53" stroke="#000" stroke-width="5" stroke-linecap="butt"/>
<polygon points="271.00,192.50 249.59,207.95 247.10,199.82 244.61,191.69" fill="#000" />
<line x1="215.50" y1="208.50" x2="217.27" y2="241.74" stroke="#000" stroke-width="5" stroke-linecap="butt"/>
<polygon points="218.70,268.70 208.98,241.18 217.21,240.74 225.45,240.30" fill="#000" />
<circle cx="215.5" cy="209.5" r="2.5" fill="#000"/>
<line x1="241.20" y1="64.50" x2="241.20" y2="82.00" stroke="#000" stroke-width="5" stroke-linecap="butt"/>
<polygon points="241.20,103.00 233.20,81.00 241.20,81.00 249.20,81.00" fill="#000" />
</g>
<text x="0.00" y="21.00" font-size="27" text-anchor="start" fill="#000" font-weight="bold" >a</text>
<text x="30.00" y="65.00" font-size="28" text-anchor="start" fill="#000" >Air</text>
<text x="210.00" y="52.50" font-size="28" text-anchor="start" fill="#000" >Origin</text>
<text x="380.00" y="40.00" font-size="28" text-anchor="start" fill="#000" >VCSEL</text>
<line x1="395.00" y1="57.50" x2="377.09" y2="70.29" stroke="#000" stroke-width="5" stroke-linecap="butt"/>
<polygon points="360.00,82.50 373.25,63.20 377.90,69.71 382.55,76.22" fill="#000" />
<text x="102.50" y="137.50" font-size="28" text-anchor="start" fill="#000" >2</text>
<text x="357.50" y="142.50" font-size="28" text-anchor="start" fill="#000" >1</text>
<text x="170.00" y="176.00" font-size="28" text-anchor="start" fill="#000" >x</text>
<text x="277.50" y="216.00" font-size="28" text-anchor="start" fill="#000" >y</text>
<text x="191.00" y="275.00" font-size="28" text-anchor="start" fill="#000" >z</text>
<text x="430.00" y="251.00" font-size="28" text-anchor="start" fill="#000" >3</text>
<text x="429.00" y="394.00" font-size="28" text-anchor="start" fill="#000" >4</text>
<text x="29.00" y="150.00" font-size="28" text-anchor="start" fill="#000" transform="rotate(84 29.00 150.00)" >Tissue</text>
<text x="0.00" y="0.00" font-size="26" text-anchor="start" fill="#1a0008" opacity="0.85" transform="matrix(0.875 -0.485 0.276 0.961 251.5 560)">5 mm</text>
<rect x="506.20" y="191.40" width="25.80" height="242.80" fill="url(#cba)" />
<text x="512.20" y="169.30" font-size="28" text-anchor="start" fill="#000" >0</text>
<text x="499.50" y="477.50" font-size="28" text-anchor="start" fill="#000" >-60</text>
<text x="562.50" y="188.40" font-size="28" text-anchor="start" fill="#000" transform="rotate(90 562.50 188.40)" >Optical intensity (dB)</text>
<rect x="17.50" y="639.60" width="227.90" height="283.90" fill="url(#sva)" />
<rect x="17.50" y="639.60" width="227.90" height="283.90" fill="url(#sha0)" />
<rect x="17.50" y="639.60" width="227.90" height="283.90" fill="url(#sea0)" mask="url(#sma0)"/>
<g mask="url(#stmka0)">
<rect x="17.50" y="639.60" width="227.90" height="283.90" fill="#000" filter="url(#streak)" opacity="0.11"/>
<rect x="17.50" y="639.60" width="227.90" height="283.90" fill="#fff" filter="url(#streakw)" opacity="0.07"/>
</g>
<rect x="17.50" y="639.60" width="227.90" height="283.90" fill="none" stroke="#000" stroke-width="1" opacity="0.8"/>
<rect x="278.50" y="639.60" width="228.50" height="283.90" fill="url(#sva)" />
<rect x="278.50" y="639.60" width="228.50" height="283.90" fill="url(#sha1)" />
<rect x="278.50" y="639.60" width="228.50" height="283.90" fill="url(#sea1)" mask="url(#sma1)"/>
<g mask="url(#stmka1)">
<rect x="278.50" y="639.60" width="228.50" height="283.90" fill="#000" filter="url(#streak)" opacity="0.11"/>
<rect x="278.50" y="639.60" width="228.50" height="283.90" fill="#fff" filter="url(#streakw)" opacity="0.07"/>
</g>
<rect x="278.50" y="639.60" width="228.50" height="283.90" fill="none" stroke="#000" stroke-width="1" opacity="0.8"/>
<rect x="17.50" y="962.30" width="227.90" height="227.90" fill="url(#sra0)" />
<rect x="17.50" y="962.30" width="227.90" height="227.90" fill="#000" filter="url(#grain)" opacity="0.07"/>
<rect x="17.50" y="962.30" width="227.90" height="227.90" fill="#fff" filter="url(#grainw)" opacity="0.05"/>
<rect x="17.50" y="962.30" width="227.90" height="227.90" fill="none" stroke="#000" stroke-width="1" opacity="0.85"/>
<rect x="278.50" y="962.30" width="228.50" height="227.90" fill="url(#sra1)" />
<rect x="278.50" y="962.30" width="228.50" height="227.90" fill="#000" filter="url(#grain)" opacity="0.14"/>
<rect x="278.50" y="962.30" width="228.50" height="227.90" fill="#fff" filter="url(#grainw)" opacity="0.08"/>
<rect x="278.50" y="962.30" width="228.50" height="227.90" fill="none" stroke="#000" stroke-width="1" opacity="0.85"/>
<text x="20.30" y="629.80" font-size="28" text-anchor="start" fill="#000" >y = 0 mm</text>
<text x="175.50" y="629.80" font-size="28" text-anchor="start" fill="#000" >x</text>
<text x="280.20" y="629.80" font-size="28" text-anchor="start" fill="#000" >x = 0 mm</text>
<text x="438.80" y="629.80" font-size="28" text-anchor="start" fill="#000" >y</text>
<text x="20.00" y="953.90" font-size="28" text-anchor="start" fill="#000" >z = 10 mm</text>
<text x="177.90" y="953.90" font-size="28" text-anchor="start" fill="#000" >x</text>
<text x="280.20" y="953.90" font-size="28" text-anchor="start" fill="#000" >z = 20 mm</text>
<text x="438.80" y="953.90" font-size="28" text-anchor="start" fill="#000" >x</text>
<text x="28.70" y="668.60" font-size="28" text-anchor="start" fill="#000" >1</text>
<text x="288.60" y="668.60" font-size="28" text-anchor="start" fill="#000" >2</text>
<text x="27.70" y="992.40" font-size="28" text-anchor="start" fill="#000" >3</text>
<text x="288.60" y="992.40" font-size="28" text-anchor="start" fill="#000" >4</text>
<text x="253.80" y="706.50" font-size="28" text-anchor="start" fill="#000" >z</text>
<text x="512.00" y="706.50" font-size="28" text-anchor="start" fill="#000" >z</text>
<text x="253.80" y="1028.00" font-size="28" text-anchor="start" fill="#000" >y</text>
<text x="512.00" y="1028.00" font-size="28" text-anchor="start" fill="#000" >y</text>
<text x="153.60" y="883.00" font-size="28" text-anchor="start" fill="#000" >5 mm</text>
<rect x="162.70" y="898.20" width="57.30" height="6.40" fill="#000" />
<line x1="247.20" y1="639.10" x2="205.40" y2="639.10" stroke="#000" stroke-width="3.6" stroke-linecap="butt"/>
<polygon points="187.90,639.10 204.40,631.10 204.40,647.10" fill="#000" />
<line x1="245.40" y1="637.30" x2="245.40" y2="681.10" stroke="#000" stroke-width="3.6" stroke-linecap="butt"/>
<polygon points="245.40,697.60 237.40,680.10 253.40,680.10" fill="#000" />
<line x1="508.80" y1="639.10" x2="467.00" y2="639.10" stroke="#000" stroke-width="3.6" stroke-linecap="butt"/>
<polygon points="449.50,639.10 466.00,631.10 466.00,647.10" fill="#000" />
<line x1="507.00" y1="637.30" x2="507.00" y2="681.10" stroke="#000" stroke-width="3.6" stroke-linecap="butt"/>
<polygon points="507.00,697.60 499.00,680.10 515.00,680.10" fill="#000" />
<line x1="247.20" y1="961.80" x2="205.40" y2="961.80" stroke="#000" stroke-width="3.6" stroke-linecap="butt"/>
<polygon points="187.90,961.80 204.40,953.80 204.40,969.80" fill="#000" />
<line x1="245.40" y1="960.00" x2="245.40" y2="1003.80" stroke="#000" stroke-width="3.6" stroke-linecap="butt"/>
<polygon points="245.40,1020.30 237.40,1002.80 253.40,1002.80" fill="#000" />
<line x1="508.80" y1="961.80" x2="467.00" y2="961.80" stroke="#000" stroke-width="3.6" stroke-linecap="butt"/>
<polygon points="449.50,961.80 466.00,953.80 466.00,969.80" fill="#000" />
<line x1="507.00" y1="960.00" x2="507.00" y2="1003.80" stroke="#000" stroke-width="3.6" stroke-linecap="butt"/>
<polygon points="507.00,1020.30 499.00,1002.80 515.00,1002.80" fill="#000" />
<g clip-path="url(#th1)">
<rect x="755.20" y="4.30" width="413.00" height="272.30" fill="#ee6a12" />
<rect x="866.92" y="-13.06" width="313.52" height="31.57" fill="#f2900f" filter="url(#b8)" opacity="0.9"/>
<ellipse cx="810.3" cy="113.2" rx="40" ry="100" fill="#f8961a" filter="url(#b14)" opacity="0.95"/>
<polygon points="745.00,243.41 866.92,250.38 910.47,256.91 910.47,304.81 745.00,304.81" fill="#d23a88" filter="url(#b3)"/>
<polygon points="745.00,250.38 866.92,258.00 910.47,263.44 910.47,304.81 745.00,304.81" fill="#6a16b2" filter="url(#b3)"/>
<polygon points="745.00,261.27 910.47,271.06 910.47,304.81 745.00,304.81" fill="#300c92" filter="url(#b3)"/>
<rect x="854.30" y="23.51" width="232.96" height="221.42" fill="#da3476" rx="7" filter="url(#b3)"/>
<rect x="859.09" y="28.30" width="224.04" height="228.61" fill="#aa0ca6" rx="7" filter="url(#b2)"/>
<rect x="868.23" y="36.14" width="207.71" height="195.51" fill="#5f14b6" rx="5" filter="url(#b3)"/>
<rect x="886.52" y="54.43" width="172.00" height="154.58" fill="#ab08a8" rx="40" filter="url(#b14)"/>
<rect x="897.41" y="71.85" width="150.23" height="132.81" fill="#ad06a8" rx="30" filter="url(#b14)"/>
<rect x="910.47" y="43.54" width="117.57" height="69.67" fill="#ab08a8" rx="30" filter="url(#b14)" opacity="0.85"/>
<rect x="884.34" y="130.63" width="56.61" height="87.09" fill="#ab08a8" rx="30" filter="url(#b14)" opacity="0.6"/>
<polygon points="1035.66,259.53 1084.65,248.20 1180.45,224.25 1180.45,304.81 1035.66,304.81" fill="#c0248e" filter="url(#b2)"/>
<polygon points="1035.66,263.01 1084.65,251.69 1180.45,228.17 1180.45,304.81 1035.66,304.81" fill="#1d0a76" filter="url(#b2)"/>
<ellipse cx="1128.2" cy="270.0" rx="45" ry="10" fill="#0c0650" filter="url(#b5)" opacity="0.8"/>
<polygon points="1045.46,243.41 1084.65,236.23 1084.65,241.24 1045.46,248.20" fill="#e2428a" filter="url(#b2)" opacity="0.9"/>
<polygon points="914.82,224.25 1025.86,224.25 1030.22,234.05 1036.31,304.81 909.38,304.81 910.47,238.41" fill="#5a12b0" filter="url(#b5)"/>
<polygon points="911.56,241.67 1030.22,237.32 1036.31,304.81 909.38,304.81" fill="#4a10a8" filter="url(#b3)"/>
<polygon points="910.47,259.09 1032.39,254.74 1036.31,304.81 909.38,304.81" fill="#3a0e9e" filter="url(#b3)"/>
<rect x="755.20" y="4.30" width="413.00" height="272.30" fill="#fff" filter="url(#noise)" opacity="0.16"/>
<rect x="755.20" y="4.30" width="413.00" height="272.30" fill="#000" filter="url(#noised)" opacity="0.13"/>
</g>
<rect x="755.20" y="4.30" width="413.00" height="272.30" fill="none" stroke="#000" stroke-width="2" />
<polyline points="911.6,274.8 911.6,239.5 1029.1,234.7 1035.0,274.8" fill="none" stroke="#fff" stroke-width="2.7" stroke-dasharray="13 6.5"/>
<line x1="911.56" y1="273.27" x2="1035.01" y2="273.27" stroke="#fff" stroke-width="2.7" stroke-linecap="butt" stroke-dasharray="13 6.5"/>
<text x="773.30" y="46.80" font-size="28" text-anchor="start" fill="#000" >0 h</text>
<text x="1092.30" y="39.80" font-size="28" text-anchor="start" fill="#000" >Arm</text>
<text x="771.00" y="260.20" font-size="28" text-anchor="start" fill="#fff" >Cable</text>
<text x="1093.00" y="242.00" font-size="28" text-anchor="start" fill="#fff" >1 cm</text>
<rect x="1092.70" y="258.00" width="57.90" height="6.50" fill="#fff" />
<line x1="857.10" y1="251.00" x2="876.70" y2="251.00" stroke="#fff" stroke-width="6" stroke-linecap="butt"/>
<polygon points="900.70,251.00 875.70,259.00 875.70,251.00 875.70,243.00" fill="#fff" />
<g clip-path="url(#th2)">
<rect x="755.20" y="295.90" width="413.00" height="271.70" fill="#ee6c16" />
<rect x="853.86" y="280.65" width="326.58" height="30.48" fill="#f2850f" filter="url(#b8)" opacity="0.9"/>
<rect x="727.58" y="267.58" width="113.22" height="71.85" fill="#d42e80" filter="url(#b14)"/>
<rect x="727.58" y="267.58" width="91.44" height="55.52" fill="#cc2890" filter="url(#b8)"/>
<rect x="727.58" y="306.77" width="37.01" height="69.67" fill="#d8347a" filter="url(#b8)" opacity="0.8"/>
<polygon points="745.00,543.00 866.92,551.71 866.92,611.58 745.00,611.58" fill="#c01c98" filter="url(#b3)"/>
<polygon points="745.00,551.71 906.11,562.60 906.11,611.58 745.00,611.58" fill="#7a10b4" filter="url(#b5)"/>
<rect x="860.39" y="315.48" width="226.87" height="228.61" fill="#d52c7a" rx="5" filter="url(#b3)"/>
<rect x="870.19" y="494.01" width="205.75" height="95.80" fill="#b812a2" filter="url(#b8)"/>
<rect x="903.94" y="528.85" width="131.72" height="60.96" fill="#a40eaa" filter="url(#b3)"/>
<rect x="862.57" y="535.38" width="39.63" height="24.38" fill="#d83080" rx="3" filter="url(#b2)"/>
<rect x="1036.75" y="527.11" width="48.99" height="17.42" fill="#d83080" rx="4" filter="url(#b2)"/>
<polygon points="1087.26,502.72 1180.45,502.72 1180.45,519.05 1087.26,540.82" fill="#ee6c16" filter="url(#b2)"/>
<polygon points="1034.57,556.06 1115.13,535.38 1180.45,516.22 1180.45,611.58 1034.57,611.58" fill="#a512a6" filter="url(#b3)"/>
<polygon points="1041.10,562.60 1115.13,540.82 1180.45,521.23 1180.45,611.58 1041.10,611.58" fill="#2a0c90" filter="url(#b5)"/>
<polygon points="1093.36,565.86 1180.45,535.38 1180.45,611.58 1093.36,611.58" fill="#0e0660" filter="url(#b8)"/>
<rect x="891.4" y="338.0" width="160" height="140" rx="50" fill="#ee6410" filter="url(#b8)"/>
<rect x="907.4" y="352.0" width="126" height="112" rx="44" fill="#fdb80c" filter="url(#b8)"/>
<rect x="925.4" y="365.0" width="96" height="88" rx="36" fill="#ffe228" filter="url(#b5)"/>
<ellipse cx="979.4" cy="403.0" rx="30" ry="31" fill="#fffbe6" filter="url(#b5)"/>
<rect x="755.20" y="295.90" width="413.00" height="271.70" fill="#fff" filter="url(#noise)" opacity="0.16"/>
<rect x="755.20" y="295.90" width="413.00" height="271.70" fill="#000" filter="url(#noised)" opacity="0.13"/>
</g>
<rect x="755.20" y="295.90" width="413.00" height="271.70" fill="none" stroke="#000" stroke-width="2" />
<text x="774.40" y="336.80" font-size="28" text-anchor="start" fill="#000" >1 h</text>
<rect x="1208.10" y="126.90" width="36.80" height="314.20" fill="url(#cbb)" />
<text x="1210.90" y="106.30" font-size="28" text-anchor="start" fill="#000" >36</text>
<text x="1210.40" y="478.60" font-size="28" text-anchor="start" fill="#000" >21</text>
<text x="1273.00" y="173.00" font-size="28.2" text-anchor="start" fill="#000" transform="rotate(90 1273.00 173.00)" >Temperature (°C)</text>
<text x="636.00" y="21.00" font-size="27" text-anchor="start" fill="#000" font-weight="bold" >b</text>
<polygon points="718.20,880.30 900.00,881.50 1100.00,884.50 1320.30,889.50 1320.30,1124.60 718.20,1124.60" fill="#f51919" />
<line x1="716.60" y1="1128.00" x2="716.60" y2="1119.00" stroke="#000" stroke-width="2.5" stroke-linecap="butt"/>
<line x1="917.90" y1="1128.00" x2="917.90" y2="1119.00" stroke="#000" stroke-width="2.5" stroke-linecap="butt"/>
<line x1="1119.20" y1="1128.00" x2="1119.20" y2="1119.00" stroke="#000" stroke-width="2.5" stroke-linecap="butt"/>
<line x1="1320.50" y1="1128.00" x2="1320.50" y2="1119.00" stroke="#000" stroke-width="2.5" stroke-linecap="butt"/>
<line x1="714.40" y1="637.60" x2="723.40" y2="637.60" stroke="#000" stroke-width="2.5" stroke-linecap="butt"/>
<line x1="714.40" y1="880.20" x2="723.40" y2="880.20" stroke="#000" stroke-width="2.5" stroke-linecap="butt"/>
<line x1="714.40" y1="1124.50" x2="723.40" y2="1124.50" stroke="#000" stroke-width="2.5" stroke-linecap="butt"/>
<rect x="714.40" y="637.60" width="611.20" height="490.40" fill="none" stroke="#000" stroke-width="2.6" />
<polygon points="718.20,880.30 900.00,881.50 1100.00,884.50 1320.30,889.50 1320.30,1124.00 718.20,1124.00" fill="#f51919" />
<text x="716.60" y="1163.00" font-size="28" text-anchor="middle" fill="#000" >0</text>
<text x="917.30" y="1163.00" font-size="28" text-anchor="middle" fill="#000" >20</text>
<text x="1119.00" y="1163.00" font-size="28" text-anchor="middle" fill="#000" >40</text>
<text x="1319.00" y="1163.00" font-size="28" text-anchor="middle" fill="#000" >60</text>
<text x="700.50" y="646.50" font-size="28" text-anchor="end" fill="#000" >2</text>
<text x="700.50" y="889.50" font-size="28" text-anchor="end" fill="#000" >1</text>
<text x="700.50" y="1133.00" font-size="28" text-anchor="end" fill="#000" >0</text>
<text x="1021.80" y="1204.40" font-size="28" text-anchor="middle" fill="#000" >Time (minute)</text>
<text x="649.50" y="878.30" font-size="28" text-anchor="middle" fill="#000" transform="rotate(-90 649.50 878.30)" >Normalized intensity</text>
<text x="634.00" y="619.00" font-size="27" text-anchor="start" fill="#000" font-weight="bold" >c</text>
<polyline points="774.95,836.13 836.22,836.13 890.99,836.13 892.79,824.23 894.59,791.80 896.76,741.35 898.92,705.32 901.08,686.58 903.60,674.68 907.57,669.64 913.69,672.52 919.10,675.77 921.26,689.10 923.42,708.92 926.31,734.14 929.19,759.37 932.07,780.99 934.95,802.61 937.12,815.23 940.00,824.23 944.32,830.00 951.53,831.80 965.95,832.16 980.36,832.52 1001.98,832.88 1020.00,833.60 1021.80,835.05" fill="none" stroke="#f02020" stroke-width="3.5" stroke-linejoin="round" stroke-linecap="round" />
<polyline points="1036.22,836.13 1088.47,836.13 1152.61,836.13 1154.77,828.56 1156.58,806.22 1158.38,770.18 1160.54,730.54 1162.70,698.11 1164.86,682.97 1167.75,676.49 1173.15,676.49 1178.56,679.73 1182.16,685.14 1184.32,701.71 1186.85,726.94 1189.37,752.16 1192.25,780.99 1195.14,800.81 1198.74,815.23 1202.34,827.84 1207.39,831.08 1218.20,831.80 1232.61,832.16 1247.03,832.88 1261.44,833.96 1283.06,834.68" fill="none" stroke="#f02020" stroke-width="3.5" stroke-linejoin="round" stroke-linecap="round" />
<text x="1024.30" y="758.30" font-size="28" text-anchor="middle" fill="#000" >200 ns</text>
<rect x="1005.60" y="773.70" width="37.80" height="6.00" fill="#000" />
<text x="758.70" y="865.00" font-size="28" text-anchor="start" fill="#000" >100<tspan font-size="18" dy="-9">th</tspan></text>
<line x1="755.00" y1="856.70" x2="735.14" y2="869.96" stroke="#000" stroke-width="4.5" stroke-linecap="butt"/>
<polygon points="721.00,879.40 732.36,864.00 735.97,869.41 739.58,874.81" fill="#000" />
<text x="1112.00" y="863.90" font-size="28" text-anchor="start" fill="#000" >10 million<tspan font-size="18" dy="-9">th</tspan></text>
<line x1="1245.00" y1="862.00" x2="1262.00" y2="876.34" stroke="#000" stroke-width="4.5" stroke-linecap="butt"/>
<polygon points="1275.00,887.30 1257.05,880.66 1261.24,875.70 1265.43,870.73" fill="#000" />
<g id="cubed">
<polygon points="1430.00,106.60 1638.20,210.50 1638.58,221.33 1430.98,115.99" fill="#6cb1d8" />
<polygon points="1430.82,114.48 1638.52,219.60 1638.90,230.36 1431.79,123.83" fill="#6bb0d7" />
<polygon points="1431.64,122.33 1638.83,228.63 1639.21,239.33 1432.60,131.62" fill="#6aafd7" />
<polygon points="1432.45,130.13 1639.15,237.61 1639.52,248.24 1433.41,139.37" fill="#69aed6" />
<polygon points="1433.26,137.89 1639.46,246.54 1639.83,257.10 1434.21,147.09" fill="#68add6" />
<polygon points="1434.06,145.61 1639.77,255.41 1640.14,265.90 1435.01,154.76" fill="#67acd5" />
<polygon points="1434.86,153.29 1640.08,264.22 1640.45,274.65 1435.80,162.39" fill="#65acd5" />
<polygon points="1435.65,160.93 1640.39,272.97 1640.75,283.34 1436.59,169.98" fill="#64abd4" />
<polygon points="1436.44,168.52 1640.69,281.68 1641.05,291.98 1437.38,177.53" fill="#63aad4" />
<polygon points="1437.23,176.08 1641.00,290.33 1641.35,300.57 1438.16,185.04" fill="#62a9d3" />
<polygon points="1438.01,183.60 1641.30,298.92 1641.65,309.10 1438.94,192.52" fill="#5fa7d2" />
<polygon points="1438.79,191.08 1641.60,307.46 1641.95,317.58 1439.71,199.95" fill="#5ca4d1" />
<polygon points="1439.56,198.53 1641.89,315.95 1642.24,326.01 1440.48,207.35" fill="#59a2d0" />
<polygon points="1440.33,205.93 1642.19,324.39 1642.54,334.38 1441.25,214.71" fill="#569fce" />
<polygon points="1441.10,213.30 1642.48,332.78 1642.83,342.71 1442.01,222.03" fill="#539dcd" />
<polygon points="1441.86,220.62 1642.77,341.11 1643.12,350.98 1442.77,229.31" fill="#509bcc" />
<polygon points="1442.62,227.91 1643.06,349.40 1643.41,359.21 1443.52,236.56" fill="#4d98cb" />
<polygon points="1443.38,235.17 1643.35,357.63 1643.69,367.38 1444.27,243.76" fill="#4a96ca" />
<polygon points="1444.13,242.38 1643.64,365.82 1643.98,375.51 1445.02,250.94" fill="#4793c9" />
<polygon points="1444.87,249.56 1643.92,373.95 1644.26,383.59 1445.76,258.07" fill="#4491c8" />
<polygon points="1445.62,256.71 1644.21,382.04 1644.54,391.62 1446.50,265.17" fill="#428fc6" />
<polygon points="1446.36,263.81 1644.49,390.08 1644.82,399.60 1447.23,272.24" fill="#408cc5" />
<polygon points="1447.09,270.88 1644.77,398.07 1645.10,407.53 1447.96,279.27" fill="#3d8ac4" />
<polygon points="1447.82,277.92 1645.05,406.01 1645.38,415.42 1448.69,286.26" fill="#3b87c3" />
<polygon points="1448.55,284.92 1645.32,413.91 1645.65,423.26 1449.42,293.22" fill="#3985c1" />
<polygon points="1449.28,291.89 1645.60,421.76 1645.92,431.05 1450.14,300.14" fill="#3782c0" />
<polygon points="1450.00,298.82 1645.87,429.56 1646.19,438.80 1450.85,307.03" fill="#3580bf" />
<polygon points="1450.72,305.71 1646.14,437.32 1646.46,446.50 1451.57,313.89" fill="#337dbd" />
<polygon points="1451.43,312.58 1646.41,445.03 1646.73,454.16 1452.28,320.71" fill="#327bbb" />
<polygon points="1452.14,319.40 1646.68,452.69 1647.00,461.78 1452.98,327.50" fill="#3078ba" />
<polygon points="1452.85,326.20 1646.95,460.32 1647.26,469.34 1453.69,334.25" fill="#2f76b8" />
<polygon points="1453.55,332.96 1647.21,467.89 1647.53,476.87 1454.38,340.97" fill="#2d74b6" />
<polygon points="1454.25,339.69 1647.48,475.43 1647.79,484.35 1455.08,347.66" fill="#2c71b5" />
<polygon points="1454.95,346.38 1647.74,482.92 1648.05,491.79 1455.77,354.32" fill="#2a6fb3" />
<polygon points="1455.64,353.04 1648.00,490.37 1648.31,499.19 1456.46,360.94" fill="#296db1" />
<polygon points="1456.33,359.67 1648.26,497.77 1648.57,506.54 1457.15,367.53" fill="#286aaf" />
<polygon points="1457.02,366.27 1648.52,505.13 1648.82,513.85 1457.83,374.09" fill="#2668ad" />
<polygon points="1457.70,372.83 1648.77,512.45 1649.08,521.12 1458.51,380.62" fill="#2566ab" />
<polygon points="1458.38,379.37 1649.03,519.73 1649.33,528.35 1459.19,387.11" fill="#2464a8" />
<polygon points="1459.06,385.87 1649.28,526.97 1649.58,535.54 1459.86,393.58" fill="#2361a5" />
<polygon points="1459.73,392.34 1649.53,534.16 1649.83,542.69 1460.53,400.01" fill="#225fa2" />
<polygon points="1460.40,398.78 1649.78,541.32 1650.08,549.80 1461.19,406.41" fill="#215c9f" />
<polygon points="1461.07,405.19 1650.03,548.44 1650.33,556.86 1461.86,412.79" fill="#205a9c" />
<polygon points="1461.73,411.56 1650.28,555.51 1650.58,563.89 1462.52,419.13" fill="#1f5799" />
<polygon points="1462.39,417.91 1650.53,562.55 1650.82,570.88 1463.17,425.44" fill="#1e5596" />
<polygon points="1463.05,424.23 1650.77,569.54 1651.06,577.83 1463.83,431.72" fill="#1e5493" />
<polygon points="1463.70,430.52 1651.02,576.50 1651.31,584.74 1464.48,437.97" fill="#1d5290" />
<polygon points="1464.35,436.77 1651.26,583.42 1651.50,590.30 1465.00,443.00" fill="#1c508d" />
<polygon points="1638.20,210.50 1902.00,111.60 1901.37,121.41 1638.59,221.51" fill="#6cb1d8" />
<polygon points="1638.52,219.74 1901.47,119.83 1900.84,129.58 1638.91,230.67" fill="#6bb0d7" />
<polygon points="1638.84,228.92 1900.94,128.02 1900.31,137.71 1639.23,239.77" fill="#6aafd7" />
<polygon points="1639.16,238.03 1900.42,136.15 1899.79,145.78 1639.54,248.81" fill="#69aed6" />
<polygon points="1639.48,247.08 1899.89,144.23 1899.28,153.80 1639.86,257.78" fill="#68add6" />
<polygon points="1639.80,256.06 1899.37,152.27 1898.76,161.78 1640.17,266.68" fill="#67acd5" />
<polygon points="1640.11,264.98 1898.86,160.25 1898.25,169.71 1640.48,275.53" fill="#65acd5" />
<polygon points="1640.42,273.84 1898.35,168.19 1897.74,177.59 1640.78,284.31" fill="#64abd4" />
<polygon points="1640.73,282.63 1897.84,176.08 1897.23,185.43 1641.09,293.04" fill="#63aad4" />
<polygon points="1641.03,291.37 1897.33,183.93 1896.73,193.21 1641.39,301.70" fill="#62a9d3" />
<polygon points="1641.34,300.04 1896.83,191.72 1896.23,200.95 1641.69,310.30" fill="#5fa7d2" />
<polygon points="1641.64,308.65 1896.33,199.47 1895.73,208.65 1641.99,318.84" fill="#5ca4d1" />
<polygon points="1641.94,317.21 1895.83,207.17 1895.24,216.30 1642.29,327.33" fill="#59a2d0" />
<polygon points="1642.23,325.70 1895.33,214.83 1894.75,223.90 1642.59,335.76" fill="#569fce" />
<polygon points="1642.53,334.14 1894.84,222.45 1894.26,231.46 1642.88,344.13" fill="#539dcd" />
<polygon points="1642.82,342.52 1894.35,230.01 1893.78,238.98 1643.17,352.44" fill="#509bcc" />
<polygon points="1643.11,350.85 1893.87,237.54 1893.29,246.45 1643.46,360.70" fill="#4d98cb" />
<polygon points="1643.40,359.11 1893.39,245.02 1892.81,253.88 1643.75,368.90" fill="#4a96ca" />
<polygon points="1643.69,367.33 1892.91,252.45 1892.34,261.26 1644.03,377.04" fill="#4793c9" />
<polygon points="1643.98,375.48 1892.43,259.85 1891.86,268.60 1644.32,385.13" fill="#4491c8" />
<polygon points="1644.26,383.58 1891.95,267.20 1891.39,275.90 1644.60,393.17" fill="#428fc6" />
<polygon points="1644.54,391.63 1891.48,274.51 1890.92,283.16 1644.88,401.16" fill="#408cc5" />
<polygon points="1644.82,399.63 1891.01,281.77 1890.46,290.38 1645.15,409.09" fill="#3d8ac4" />
<polygon points="1645.10,407.57 1890.55,288.99 1889.99,297.55 1645.43,416.97" fill="#3b87c3" />
<polygon points="1645.38,415.46 1890.08,296.18 1889.53,304.68 1645.70,424.79" fill="#3985c1" />
<polygon points="1645.65,423.29 1889.62,303.32 1889.08,311.78 1645.98,432.57" fill="#3782c0" />
<polygon points="1645.92,431.08 1889.16,310.42 1888.62,318.83 1646.25,440.29" fill="#3580bf" />
<polygon points="1646.20,438.81 1888.71,317.48 1888.17,325.84 1646.52,447.97" fill="#337dbd" />
<polygon points="1646.46,446.50 1888.25,324.50 1887.72,332.82 1646.78,455.59" fill="#327bbb" />
<polygon points="1646.73,454.13 1887.80,331.48 1887.27,339.75 1647.05,463.17" fill="#3078ba" />
<polygon points="1647.00,461.72 1887.36,338.42 1886.82,346.64 1647.31,470.69" fill="#2f76b8" />
<polygon points="1647.26,469.25 1886.91,345.32 1886.38,353.50 1647.57,478.17" fill="#2d74b6" />
<polygon points="1647.52,476.74 1886.47,352.19 1885.94,360.32 1647.83,485.60" fill="#2c71b5" />
<polygon points="1647.78,484.18 1886.03,359.01 1885.50,367.10 1648.09,492.98" fill="#2a6fb3" />
<polygon points="1648.04,491.57 1885.59,365.80 1885.07,373.84 1648.35,500.32" fill="#296db1" />
<polygon points="1648.30,498.91 1885.15,372.55 1884.64,380.55 1648.60,507.61" fill="#286aaf" />
<polygon points="1648.56,506.21 1884.72,379.26 1884.21,387.21 1648.86,514.85" fill="#2668ad" />
<polygon points="1648.81,513.46 1884.29,385.94 1883.78,393.85 1649.11,522.05" fill="#2566ab" />
<polygon points="1649.06,520.67 1883.86,392.57 1883.35,400.44 1649.36,529.20" fill="#2464a8" />
<polygon points="1649.31,527.83 1883.43,399.18 1882.93,407.00 1649.61,536.31" fill="#2361a5" />
<polygon points="1649.56,534.94 1883.01,405.74 1882.51,413.52 1649.86,543.37" fill="#225fa2" />
<polygon points="1649.81,542.02 1882.59,412.27 1882.09,420.01 1650.10,550.39" fill="#215c9f" />
<polygon points="1650.06,549.04 1882.17,418.77 1881.67,426.46 1650.35,557.36" fill="#205a9c" />
<polygon points="1650.30,556.03 1881.75,425.23 1881.26,432.88 1650.59,564.29" fill="#1f5799" />
<polygon points="1650.54,562.97 1881.34,431.65 1880.85,439.26 1650.83,571.18" fill="#1e5596" />
<polygon points="1650.78,569.86 1880.92,438.04 1880.44,445.61 1651.07,578.03" fill="#1e5493" />
<polygon points="1651.02,576.72 1880.51,444.39 1880.03,451.92 1651.31,584.83" fill="#1d5290" />
<polygon points="1651.26,583.53 1880.11,450.71 1879.70,457.00 1651.50,590.30" fill="#1c508d" />
<polygon points="1430.00,106.60 1638.20,210.50 1651.50,590.30 1465.00,443.00" fill="url(#shdl)" mask="url(#mkdl)"/>
<polygon points="1430.00,106.60 1638.20,210.50 1651.50,590.30 1465.00,443.00" fill="url(#frdl)" />
<polygon points="1430.00,106.60 1430.82,114.48 1440.24,115.49" fill="#fff" opacity="0.45"/>
<polygon points="1430.82,114.48 1431.64,122.33 1441.03,123.41" fill="#fff" opacity="0.45"/>
<polygon points="1431.64,122.33 1432.45,130.13 1441.82,131.28" fill="#fff" opacity="0.45"/>
<polygon points="1432.45,130.13 1433.26,137.89 1442.60,139.12" fill="#fff" opacity="0.45"/>
<polygon points="1433.26,137.89 1434.06,145.61 1443.38,146.91" fill="#fff" opacity="0.45"/>
<polygon points="1434.06,145.61 1434.86,153.29 1444.15,154.66" fill="#fff" opacity="0.45"/>
<polygon points="1434.86,153.29 1435.65,160.93 1444.92,162.37" fill="#fff" opacity="0.45"/>
<polygon points="1435.65,160.93 1436.44,168.52 1445.68,170.04" fill="#fff" opacity="0.45"/>
<polygon points="1436.44,168.52 1437.23,176.08 1446.44,177.66" fill="#fff" opacity="0.45"/>
<polygon points="1437.23,176.08 1438.01,183.60 1447.20,185.25" fill="#fff" opacity="0.45"/>
<polygon points="1438.01,183.60 1438.79,191.08 1447.96,192.80" fill="#fff" opacity="0.45"/>
<polygon points="1438.79,191.08 1439.56,198.53 1448.70,200.31" fill="#fff" opacity="0.45"/>
<polygon points="1439.56,198.53 1440.33,205.93 1449.45,207.78" fill="#fff" opacity="0.45"/>
<polygon points="1440.33,205.93 1441.10,213.30 1450.19,215.21" fill="#fff" opacity="0.45"/>
<polygon points="1441.10,213.30 1441.86,220.62 1450.93,222.60" fill="#fff" opacity="0.45"/>
<polygon points="1441.86,220.62 1442.62,227.91 1451.66,229.95" fill="#fff" opacity="0.45"/>
<polygon points="1442.62,227.91 1443.38,235.17 1452.39,237.27" fill="#fff" opacity="0.45"/>
<polygon points="1443.38,235.17 1444.13,242.38 1453.12,244.55" fill="#fff" opacity="0.45"/>
<polygon points="1444.13,242.38 1444.87,249.56 1453.84,251.79" fill="#fff" opacity="0.45"/>
<polygon points="1444.87,249.56 1445.62,256.71 1454.56,258.99" fill="#fff" opacity="0.45"/>
<polygon points="1445.62,256.71 1446.36,263.81 1455.28,266.16" fill="#fff" opacity="0.45"/>
<polygon points="1446.36,263.81 1447.09,270.88 1455.99,273.28" fill="#fff" opacity="0.45"/>
<polygon points="1447.09,270.88 1447.82,277.92 1456.70,280.38" fill="#fff" opacity="0.45"/>
<polygon points="1447.82,277.92 1448.55,284.92 1457.40,287.44" fill="#fff" opacity="0.45"/>
<polygon points="1448.55,284.92 1449.28,291.89 1458.10,294.46" fill="#fff" opacity="0.45"/>
<polygon points="1449.28,291.89 1450.00,298.82 1458.80,301.44" fill="#fff" opacity="0.45"/>
<polygon points="1450.00,298.82 1450.72,305.71 1459.49,308.39" fill="#fff" opacity="0.45"/>
<polygon points="1450.72,305.71 1451.43,312.58 1460.19,315.31" fill="#fff" opacity="0.45"/>
<polygon points="1451.43,312.58 1452.14,319.40 1460.87,322.19" fill="#fff" opacity="0.45"/>
<polygon points="1452.14,319.40 1452.85,326.20 1461.56,329.04" fill="#fff" opacity="0.45"/>
<polygon points="1452.85,326.20 1453.55,332.96 1462.24,335.85" fill="#fff" opacity="0.45"/>
<polygon points="1453.55,332.96 1454.25,339.69 1462.91,342.63" fill="#fff" opacity="0.45"/>
<polygon points="1454.25,339.69 1454.95,346.38 1463.59,349.38" fill="#fff" opacity="0.45"/>
<polygon points="1454.95,346.38 1455.64,353.04 1464.26,356.09" fill="#fff" opacity="0.45"/>
<polygon points="1455.64,353.04 1456.33,359.67 1464.93,362.77" fill="#fff" opacity="0.45"/>
<polygon points="1456.33,359.67 1457.02,366.27 1465.59,369.42" fill="#fff" opacity="0.45"/>
<polygon points="1457.02,366.27 1457.70,372.83 1466.25,376.03" fill="#fff" opacity="0.45"/>
<polygon points="1457.70,372.83 1458.38,379.37 1466.91,382.61" fill="#fff" opacity="0.45"/>
<polygon points="1458.38,379.37 1459.06,385.87 1467.56,389.16" fill="#fff" opacity="0.45"/>
<polygon points="1459.06,385.87 1459.73,392.34 1468.22,395.68" fill="#fff" opacity="0.45"/>
<polygon points="1459.73,392.34 1460.40,398.78 1468.86,402.16" fill="#fff" opacity="0.45"/>
<polygon points="1460.40,398.78 1461.07,405.19 1469.51,408.62" fill="#fff" opacity="0.45"/>
<polygon points="1461.07,405.19 1461.73,411.56 1470.15,415.04" fill="#fff" opacity="0.45"/>
<polygon points="1461.73,411.56 1462.39,417.91 1470.79,421.43" fill="#fff" opacity="0.45"/>
<polygon points="1462.39,417.91 1463.05,424.23 1471.43,427.79" fill="#fff" opacity="0.45"/>
<polygon points="1463.05,424.23 1463.70,430.52 1472.06,434.12" fill="#fff" opacity="0.45"/>
<polygon points="1463.70,430.52 1464.35,436.77 1472.69,440.42" fill="#fff" opacity="0.45"/>
<polygon points="1464.35,436.77 1465.00,443.00 1473.32,446.69" fill="#fff" opacity="0.45"/>
<polygon points="1430.00,106.60 1638.20,210.50 1651.50,590.30 1465.00,443.00" fill="url(#btdl)" />
<polygon points="1638.20,210.50 1902.00,111.60 1879.70,457.00 1651.50,590.30" fill="url(#shdr)" mask="url(#mkdr)"/>
<polygon points="1638.20,210.50 1902.00,111.60 1879.70,457.00 1651.50,590.30" fill="url(#frdr)" />
<polygon points="1902.00,111.60 1901.47,119.83 1891.44,119.61" fill="#fff" opacity="0.45"/>
<polygon points="1901.47,119.83 1900.94,128.02 1890.93,127.86" fill="#fff" opacity="0.45"/>
<polygon points="1900.94,128.02 1900.42,136.15 1890.42,136.06" fill="#fff" opacity="0.45"/>
<polygon points="1900.42,136.15 1899.89,144.23 1889.91,144.22" fill="#fff" opacity="0.45"/>
<polygon points="1899.89,144.23 1899.37,152.27 1889.41,152.32" fill="#fff" opacity="0.45"/>
<polygon points="1899.37,152.27 1898.86,160.25 1888.91,160.37" fill="#fff" opacity="0.45"/>
<polygon points="1898.86,160.25 1898.35,168.19 1888.41,168.38" fill="#fff" opacity="0.45"/>
<polygon points="1898.35,168.19 1897.84,176.08 1887.92,176.33" fill="#fff" opacity="0.45"/>
<polygon points="1897.84,176.08 1897.33,183.93 1887.43,184.24" fill="#fff" opacity="0.45"/>
<polygon points="1897.33,183.93 1896.83,191.72 1886.94,192.10" fill="#fff" opacity="0.45"/>
<polygon points="1896.83,191.72 1896.33,199.47 1886.46,199.92" fill="#fff" opacity="0.45"/>
<polygon points="1896.33,199.47 1895.83,207.17 1885.98,207.68" fill="#fff" opacity="0.45"/>
<polygon points="1895.83,207.17 1895.33,214.83 1885.50,215.40" fill="#fff" opacity="0.45"/>
<polygon points="1895.33,214.83 1894.84,222.45 1885.02,223.08" fill="#fff" opacity="0.45"/>
<polygon points="1894.84,222.45 1894.35,230.01 1884.55,230.71" fill="#fff" opacity="0.45"/>
<polygon points="1894.35,230.01 1893.87,237.54 1884.08,238.29" fill="#fff" opacity="0.45"/>
<polygon points="1893.87,237.54 1893.39,245.02 1883.61,245.83" fill="#fff" opacity="0.45"/>
<polygon points="1893.39,245.02 1892.91,252.45 1883.15,253.33" fill="#fff" opacity="0.45"/>
<polygon points="1892.91,252.45 1892.43,259.85 1882.69,260.78" fill="#fff" opacity="0.45"/>
<polygon points="1892.43,259.85 1891.95,267.20 1882.23,268.19" fill="#fff" opacity="0.45"/>
<polygon points="1891.95,267.20 1891.48,274.51 1881.77,275.55" fill="#fff" opacity="0.45"/>
<polygon points="1891.48,274.51 1891.01,281.77 1881.32,282.88" fill="#fff" opacity="0.45"/>
<polygon points="1891.01,281.77 1890.55,288.99 1880.87,290.16" fill="#fff" opacity="0.45"/>
<polygon points="1890.55,288.99 1890.08,296.18 1880.42,297.39" fill="#fff" opacity="0.45"/>
<polygon points="1890.08,296.18 1889.62,303.32 1879.97,304.59" fill="#fff" opacity="0.45"/>
<polygon points="1889.62,303.32 1889.16,310.42 1879.53,311.75" fill="#fff" opacity="0.45"/>
<polygon points="1889.16,310.42 1888.71,317.48 1879.09,318.86" fill="#fff" opacity="0.45"/>
<polygon points="1888.71,317.48 1888.25,324.50 1878.65,325.93" fill="#fff" opacity="0.45"/>
<polygon points="1888.25,324.50 1887.80,331.48 1878.22,332.97" fill="#fff" opacity="0.45"/>
<polygon points="1887.80,331.48 1887.36,338.42 1877.78,339.96" fill="#fff" opacity="0.45"/>
<polygon points="1887.36,338.42 1886.91,345.32 1877.35,346.91" fill="#fff" opacity="0.45"/>
<polygon points="1886.91,345.32 1886.47,352.19 1876.93,353.83" fill="#fff" opacity="0.45"/>
<polygon points="1886.47,352.19 1886.03,359.01 1876.50,360.71" fill="#fff" opacity="0.45"/>
<polygon points="1886.03,359.01 1885.59,365.80 1876.08,367.54" fill="#fff" opacity="0.45"/>
<polygon points="1885.59,365.80 1885.15,372.55 1875.66,374.34" fill="#fff" opacity="0.45"/>
<polygon points="1885.15,372.55 1884.72,379.26 1875.24,381.10" fill="#fff" opacity="0.45"/>
<polygon points="1884.72,379.26 1884.29,385.94 1874.82,387.83" fill="#fff" opacity="0.45"/>
<polygon points="1884.29,385.94 1883.86,392.57 1874.41,394.51" fill="#fff" opacity="0.45"/>
<polygon points="1883.86,392.57 1883.43,399.18 1874.00,401.16" fill="#fff" opacity="0.45"/>
<polygon points="1883.43,399.18 1883.01,405.74 1873.59,407.78" fill="#fff" opacity="0.45"/>
<polygon points="1883.01,405.74 1882.59,412.27 1873.18,414.35" fill="#fff" opacity="0.45"/>
<polygon points="1882.59,412.27 1882.17,418.77 1872.78,420.89" fill="#fff" opacity="0.45"/>
<polygon points="1882.17,418.77 1881.75,425.23 1872.38,427.40" fill="#fff" opacity="0.45"/>
<polygon points="1881.75,425.23 1881.34,431.65 1871.98,433.87" fill="#fff" opacity="0.45"/>
<polygon points="1881.34,431.65 1880.92,438.04 1871.58,440.30" fill="#fff" opacity="0.45"/>
<polygon points="1880.92,438.04 1880.51,444.39 1871.18,446.70" fill="#fff" opacity="0.45"/>
<polygon points="1880.51,444.39 1880.11,450.71 1870.79,453.07" fill="#fff" opacity="0.45"/>
<polygon points="1880.11,450.71 1879.70,457.00 1870.40,459.40" fill="#fff" opacity="0.45"/>
<polygon points="1638.20,210.50 1902.00,111.60 1879.70,457.00 1651.50,590.30" fill="url(#btdr)" />
<polygon points="1430.00,106.60 1679.20,31.00 1902.00,111.60 1638.20,210.50" fill="#2f7dbb" />
<polygon points="1433.68,106.43 1679.20,31.86 1897.98,111.13 1638.33,208.22" fill="#327fbc" />
<polygon points="1437.37,106.27 1679.21,32.72 1893.96,110.66 1638.47,205.96" fill="#3682be" />
<polygon points="1441.05,106.10 1679.21,33.58 1889.95,110.19 1638.60,203.71" fill="#3a86c0" />
<polygon points="1444.73,105.93 1679.22,34.44 1885.95,109.72 1638.73,201.47" fill="#3f89c2" />
<polygon points="1448.42,105.76 1679.22,35.31 1881.95,109.25 1638.86,199.24" fill="#458dc4" />
<polygon points="1452.10,105.60 1679.22,36.18 1877.97,108.78 1638.99,197.03" fill="#4a92c6" />
<polygon points="1455.78,105.43 1679.23,37.05 1873.99,108.32 1639.12,194.83" fill="#4f96c8" />
<polygon points="1459.47,105.26 1679.23,37.93 1870.02,107.85 1639.24,192.64" fill="#559acb" />
<polygon points="1463.15,105.09 1679.23,38.80 1866.06,107.39 1639.37,190.47" fill="#5a9ecd" />
<polygon points="1466.83,104.93 1679.24,39.68 1862.10,106.92 1639.50,188.31" fill="#5fa2cf" />
<polygon points="1470.52,104.76 1679.24,40.56 1858.15,106.46 1639.62,186.16" fill="#64a6d1" />
<polygon points="1474.20,104.59 1679.25,41.45 1854.21,106.00 1639.75,184.02" fill="#69a9d3" />
<polygon points="1477.88,104.42 1679.25,42.34 1850.28,105.54 1639.87,181.90" fill="#6dadd5" />
<polygon points="1481.57,104.26 1679.25,43.23 1846.35,105.08 1639.99,179.78" fill="#71b0d6" />
<polygon points="1485.25,104.09 1679.26,44.12 1842.43,104.62 1640.12,177.68" fill="#75b2d8" />
<polygon points="1488.93,103.92 1679.26,45.02 1838.52,104.16 1640.24,175.59" fill="#78b5d9" />
<polygon points="1492.62,103.75 1679.27,45.91 1834.62,103.70 1640.36,173.52" fill="#7ab7da" />
<polygon points="1496.30,103.59 1679.27,46.81 1830.72,103.24 1640.48,171.45" fill="#7cb8db" />
<polygon points="1499.98,103.42 1679.27,47.72 1826.83,102.79 1640.60,169.40" fill="#7eb9dc" />
<polygon points="1503.66,103.25 1679.28,48.62 1822.95,102.33 1640.72,167.35" fill="#7fbadc" />
<polygon points="1507.35,103.08 1679.28,49.53 1819.07,101.88 1640.84,165.32" fill="#7fbadc" />
<polygon points="1485.00,108.53 1513.86,99.56 1539.00,111.15 1509.87,120.44" fill="#b9d9ea" opacity="0.13"/>
<polygon points="1493.32,108.93 1513.25,102.71 1530.56,110.74 1510.51,117.11" fill="#b9d9ea" />
<polygon points="1524.51,127.45 1553.79,117.97 1580.53,130.30 1550.99,140.12" fill="#b9d9ea" opacity="0.13"/>
<polygon points="1533.15,127.89 1553.37,121.32 1571.78,129.86 1551.43,136.59" fill="#b9d9ea" />
<polygon points="1565.53,147.09 1595.21,137.08 1623.65,150.19 1593.71,160.58" fill="#b9d9ea" opacity="0.13"/>
<polygon points="1574.49,147.57 1594.98,140.62 1614.57,149.71 1593.95,156.83" fill="#b9d9ea" />
<polygon points="1610.34,168.54 1640.43,157.93 1670.80,171.93 1640.45,182.96" fill="#b9d9ea" opacity="0.13"/>
<polygon points="1619.65,169.06 1640.43,161.70 1661.35,171.40 1640.45,178.96" fill="#b9d9ea" />
<polygon points="1521.46,97.19 1549.49,88.48 1574.94,99.69 1546.67,108.70" fill="#b9d9ea" opacity="0.13"/>
<polygon points="1529.71,97.58 1549.06,91.54 1566.59,99.30 1547.12,105.48" fill="#b9d9ea" />
<polygon points="1561.51,115.48 1589.91,106.29 1616.96,118.20 1588.31,127.72" fill="#b9d9ea" opacity="0.13"/>
<polygon points="1570.05,115.90 1589.67,109.52 1608.30,117.77 1588.57,124.30" fill="#b9d9ea" />
<polygon points="1603.03,134.44 1631.80,124.74 1660.54,137.40 1631.54,147.46" fill="#b9d9ea" opacity="0.13"/>
<polygon points="1611.89,134.89 1631.76,128.17 1651.56,136.93 1631.58,143.83" fill="#b9d9ea" />
<polygon points="1648.35,155.13 1677.48,144.86 1708.14,158.36 1678.78,169.03" fill="#b9d9ea" opacity="0.13"/>
<polygon points="1657.56,155.63 1677.68,148.50 1698.80,157.86 1678.57,165.17" fill="#b9d9ea" />
<polygon points="1556.87,86.18 1584.10,77.72 1609.84,88.57 1582.39,97.32" fill="#b9d9ea" opacity="0.13"/>
<polygon points="1565.04,86.55 1583.84,80.69 1601.57,88.19 1582.66,94.20" fill="#b9d9ea" />
<polygon points="1597.40,103.86 1624.97,94.94 1652.29,106.45 1624.50,115.69" fill="#b9d9ea" opacity="0.13"/>
<polygon points="1605.86,104.26 1624.90,98.08 1643.72,106.05 1624.58,112.38" fill="#b9d9ea" />
<polygon points="1639.38,122.18 1667.28,112.77 1696.29,124.99 1668.18,134.75" fill="#b9d9ea" opacity="0.13"/>
<polygon points="1648.15,122.61 1667.41,116.09 1687.40,124.55 1668.04,131.24" fill="#b9d9ea" />
<polygon points="1685.15,142.15 1713.38,132.19 1744.29,145.22 1715.87,155.55" fill="#b9d9ea" opacity="0.13"/>
<polygon points="1694.27,142.62 1713.76,135.72 1735.05,144.74 1715.47,151.82" fill="#b9d9ea" />
<polygon points="1591.28,75.49 1617.74,67.27 1643.73,77.76 1617.07,86.26" fill="#b9d9ea" opacity="0.13"/>
<polygon points="1599.37,75.84 1617.63,70.14 1635.54,77.41 1617.18,83.24" fill="#b9d9ea" />
<polygon points="1632.24,92.59 1659.01,83.93 1686.58,95.06 1659.61,104.02" fill="#b9d9ea" opacity="0.13"/>
<polygon points="1640.61,92.97 1659.10,86.97 1678.09,94.67 1659.52,100.82" fill="#b9d9ea" />
<polygon points="1674.63,110.29 1701.70,101.16 1730.95,112.97 1703.69,122.43" fill="#b9d9ea" opacity="0.13"/>
<polygon points="1683.31,110.70 1702.00,104.37 1722.15,112.55 1703.38,119.04" fill="#b9d9ea" />
<polygon points="1720.81,129.57 1748.17,119.92 1779.31,132.49 1751.78,142.50" fill="#b9d9ea" opacity="0.13"/>
<polygon points="1729.83,130.02 1748.72,123.33 1770.17,132.04 1751.20,138.90" fill="#b9d9ea" />
<polygon points="1624.71,65.10 1650.44,57.10 1676.67,67.26 1650.76,75.52" fill="#b9d9ea" opacity="0.13"/>
<polygon points="1632.73,65.43 1650.49,59.89 1668.56,66.92 1650.71,72.59" fill="#b9d9ea" />
<polygon points="1666.07,81.64 1692.08,73.23 1719.87,83.99 1693.69,92.70" fill="#b9d9ea" opacity="0.13"/>
<polygon points="1674.36,82.01 1692.32,76.17 1711.47,83.63 1693.43,89.60" fill="#b9d9ea" />
<polygon points="1708.83,98.76 1735.11,89.89 1764.57,101.31 1738.13,110.48" fill="#b9d9ea" opacity="0.13"/>
<polygon points="1717.43,99.15 1735.56,93.01 1755.87,100.91 1737.65,107.20" fill="#b9d9ea" />
<polygon points="1755.38,117.38 1781.91,108.02 1813.24,120.16 1786.56,129.86" fill="#b9d9ea" opacity="0.13"/>
<polygon points="1764.30,117.81 1782.61,111.32 1804.20,119.72 1785.82,126.38" fill="#b9d9ea" />
<polygon points="1657.22,54.99 1682.25,47.21 1708.69,57.05 1683.50,65.08" fill="#b9d9ea" opacity="0.13"/>
<polygon points="1665.16,55.31 1682.44,49.92 1700.65,56.73 1683.30,62.24" fill="#b9d9ea" />
<polygon points="1698.93,71.01 1724.21,62.83 1752.21,73.25 1726.77,81.70" fill="#b9d9ea" opacity="0.13"/>
<polygon points="1707.15,71.35 1724.60,65.68 1743.89,72.90 1726.37,78.70" fill="#b9d9ea" />
<polygon points="1742.03,87.56 1767.55,78.95 1797.20,89.99 1771.54,98.89" fill="#b9d9ea" opacity="0.13"/>
<polygon points="1750.54,87.93 1768.15,81.97 1788.58,89.61 1770.90,95.71" fill="#b9d9ea" />
<polygon points="1788.90,105.56 1814.64,96.48 1846.14,108.20 1820.27,117.60" fill="#b9d9ea" opacity="0.13"/>
<polygon points="1797.72,105.96 1815.49,99.67 1837.20,107.79 1819.37,114.24" fill="#b9d9ea" />
<line x1="1430.00" y1="106.60" x2="1679.20" y2="31.00" stroke="#000" stroke-width="1.0" stroke-linecap="butt" stroke-dasharray="2 1.2" opacity="0.85"/>
<line x1="1679.20" y1="31.00" x2="1902.00" y2="111.60" stroke="#000" stroke-width="1.0" stroke-linecap="butt" stroke-dasharray="2 1.2" opacity="0.85"/>
<line x1="1902.00" y1="111.60" x2="1638.20" y2="210.50" stroke="#000" stroke-width="1.0" stroke-linecap="butt" stroke-dasharray="2 1.2" opacity="0.85"/>
<line x1="1638.20" y1="210.50" x2="1430.00" y2="106.60" stroke="#000" stroke-width="1.0" stroke-linecap="butt" stroke-dasharray="2 1.2" opacity="0.85"/>
<line x1="1430.00" y1="106.60" x2="1465.00" y2="443.00" stroke="#000" stroke-width="1.0" stroke-linecap="butt" stroke-dasharray="2 1.2" opacity="0.85"/>
<line x1="1902.00" y1="111.60" x2="1879.70" y2="457.00" stroke="#000" stroke-width="1.0" stroke-linecap="butt" stroke-dasharray="2 1.2" opacity="0.85"/>
<line x1="1638.20" y1="210.50" x2="1651.50" y2="590.30" stroke="#000" stroke-width="1.0" stroke-linecap="butt" stroke-dasharray="2 1.2" opacity="0.85"/>
<line x1="1465.00" y1="443.00" x2="1651.50" y2="590.30" stroke="#000" stroke-width="1.0" stroke-linecap="butt" stroke-dasharray="2 1.2" opacity="0.85"/>
<line x1="1651.50" y1="590.30" x2="1879.70" y2="457.00" stroke="#000" stroke-width="1.0" stroke-linecap="butt" stroke-dasharray="2 1.2" opacity="0.85"/>
<line x1="1565.00" y1="65.00" x2="1780.50" y2="157.50" stroke="#000" stroke-width="2.4" stroke-linecap="butt" stroke-dasharray="9 5.5"/>
<line x1="1530.30" y1="154.50" x2="1779.00" y2="68.50" stroke="#000" stroke-width="2.4" stroke-linecap="butt" stroke-dasharray="9 5.5"/>
<line x1="1530.30" y1="154.50" x2="1546.00" y2="500.00" stroke="#000" stroke-width="2.4" stroke-linecap="butt" stroke-dasharray="9 5.5"/>
<line x1="1781.30" y1="158.00" x2="1780.30" y2="505.00" stroke="#000" stroke-width="2.4" stroke-linecap="butt" stroke-dasharray="9 5.5"/>
<line x1="1447.00" y1="246.70" x2="1643.70" y2="371.70" stroke="#000" stroke-width="2.4" stroke-linecap="butt" stroke-dasharray="9 5.5"/>
<line x1="1643.70" y1="371.70" x2="1892.00" y2="255.00" stroke="#000" stroke-width="2.4" stroke-linecap="butt" stroke-dasharray="9 5.5"/>
<line x1="1463.70" y1="393.30" x2="1650.00" y2="534.00" stroke="#000" stroke-width="2.4" stroke-linecap="butt" stroke-dasharray="9 5.5"/>
<line x1="1650.00" y1="534.00" x2="1877.00" y2="405.00" stroke="#000" stroke-width="2.4" stroke-linecap="butt" stroke-dasharray="9 5.5"/>
<line x1="1651.50" y1="534.30" x2="1651.50" y2="590.30" stroke="#000" stroke-width="4.4" stroke-linecap="butt"/>
<line x1="1652.00" y1="591.30" x2="1590.50" y2="543.50" stroke="#000" stroke-width="5" stroke-linecap="butt"/>
<line x1="1651.00" y1="591.30" x2="1712.00" y2="552.50" stroke="#000" stroke-width="5" stroke-linecap="butt"/>
<line x1="1638.20" y1="210.50" x2="1613.27" y2="198.91" stroke="#000" stroke-width="5" stroke-linecap="butt"/>
<polygon points="1591.50,188.80 1617.75,191.63 1614.17,199.33 1610.59,207.04" fill="#000" />
<line x1="1638.20" y1="210.50" x2="1670.20" y2="199.99" stroke="#000" stroke-width="5" stroke-linecap="butt"/>
<polygon points="1693.00,192.50 1671.90,208.38 1669.25,200.30 1666.60,192.23" fill="#000" />
<line x1="1638.20" y1="209.50" x2="1639.56" y2="241.72" stroke="#000" stroke-width="5" stroke-linecap="butt"/>
<polygon points="1640.70,268.70 1631.28,241.07 1639.52,240.72 1647.76,240.38" fill="#000" />
<circle cx="1638.2" cy="210.5" r="2.5" fill="#000"/>
<line x1="1663.20" y1="64.50" x2="1663.20" y2="82.00" stroke="#000" stroke-width="5" stroke-linecap="butt"/>
<polygon points="1663.20,103.00 1655.20,81.00 1663.20,81.00 1671.20,81.00" fill="#000" />
</g>
<text x="1410.00" y="20.50" font-size="27" text-anchor="start" fill="#000" font-weight="bold" >d</text>
<text x="1452.30" y="65.00" font-size="28" text-anchor="start" fill="#000" >Air</text>
<text x="1632.30" y="53.30" font-size="28" text-anchor="start" fill="#000" >Origin</text>
<text x="1826.70" y="33.30" font-size="28" text-anchor="start" fill="#000" >Piezoelectric</text>
<text x="1839.30" y="69.30" font-size="28" text-anchor="start" fill="#000" >transducer</text>
<line x1="1831.70" y1="66.70" x2="1813.20" y2="79.65" stroke="#000" stroke-width="5" stroke-linecap="butt"/>
<polygon points="1796.00,91.70 1809.43,72.53 1814.02,79.08 1818.61,85.63" fill="#000" />
<text x="1523.30" y="138.30" font-size="28" text-anchor="start" fill="#000" >2</text>
<text x="1780.00" y="142.70" font-size="28" text-anchor="start" fill="#000" >1</text>
<text x="1591.70" y="177.30" font-size="28" text-anchor="start" fill="#000" >x</text>
<text x="1699.00" y="216.70" font-size="28" text-anchor="start" fill="#000" >y</text>
<text x="1613.30" y="276.70" font-size="28" text-anchor="start" fill="#000" >z</text>
<text x="1852.70" y="253.30" font-size="28" text-anchor="start" fill="#000" >3</text>
<text x="1851.70" y="395.00" font-size="28" text-anchor="start" fill="#000" >4</text>
<text x="1451.00" y="151.00" font-size="28" text-anchor="start" fill="#000" transform="rotate(84 1451.00 151.00)" >Tissue</text>
<text x="0.00" y="0.00" font-size="26" text-anchor="start" fill="#020a1c" opacity="0.85" transform="matrix(0.875 -0.485 0.276 0.961 1675 560)">5 mm</text>
<rect x="1920.70" y="190.00" width="26.00" height="242.30" fill="url(#cbd)" />
<text x="1926.00" y="165.00" font-size="28" text-anchor="start" fill="#000" >0</text>
<text x="1910.00" y="473.30" font-size="28" text-anchor="start" fill="#000" >−70</text>
<text x="1970.70" y="156.70" font-size="28" text-anchor="start" fill="#000" transform="rotate(90 1970.70 156.70)" >Detection sensitivity (dB)</text>
<rect x="1441.90" y="639.60" width="227.90" height="283.90" fill="url(#svd)" />
<rect x="1441.90" y="639.60" width="227.90" height="283.90" fill="url(#shd0)" />
<rect x="1441.90" y="639.60" width="227.90" height="283.90" fill="url(#sed0)" mask="url(#smd0)"/>
<g mask="url(#stmkd0)">
<rect x="1441.90" y="639.60" width="227.90" height="283.90" fill="#000" filter="url(#streak)" opacity="0.11"/>
<rect x="1441.90" y="639.60" width="227.90" height="283.90" fill="#fff" filter="url(#streakw)" opacity="0.07"/>
</g>
<rect x="1441.90" y="639.60" width="227.90" height="283.90" fill="none" stroke="#000" stroke-width="1" opacity="0.8"/>
<rect x="1702.90" y="639.60" width="228.50" height="283.90" fill="url(#svd)" />
<rect x="1702.90" y="639.60" width="228.50" height="283.90" fill="url(#shd1)" />
<rect x="1702.90" y="639.60" width="228.50" height="283.90" fill="url(#sed1)" mask="url(#smd1)"/>
<g mask="url(#stmkd1)">
<rect x="1702.90" y="639.60" width="228.50" height="283.90" fill="#000" filter="url(#streak)" opacity="0.11"/>
<rect x="1702.90" y="639.60" width="228.50" height="283.90" fill="#fff" filter="url(#streakw)" opacity="0.07"/>
</g>
<rect x="1702.90" y="639.60" width="228.50" height="283.90" fill="none" stroke="#000" stroke-width="1" opacity="0.8"/>
<rect x="1441.90" y="962.30" width="227.90" height="227.90" fill="url(#srd0)" />
<rect x="1441.90" y="962.30" width="227.90" height="227.90" fill="#000" filter="url(#grain)" opacity="0.07"/>
<rect x="1441.90" y="962.30" width="227.90" height="227.90" fill="#fff" filter="url(#grainw)" opacity="0.05"/>
<rect x="1441.90" y="962.30" width="227.90" height="227.90" fill="none" stroke="#000" stroke-width="1" opacity="0.85"/>
<rect x="1702.90" y="962.30" width="228.50" height="227.90" fill="url(#srd1)" />
<rect x="1702.90" y="962.30" width="228.50" height="227.90" fill="#000" filter="url(#grain)" opacity="0.14"/>
<rect x="1702.90" y="962.30" width="228.50" height="227.90" fill="#fff" filter="url(#grainw)" opacity="0.08"/>
<rect x="1702.90" y="962.30" width="228.50" height="227.90" fill="none" stroke="#000" stroke-width="1" opacity="0.85"/>
<text x="1444.70" y="629.80" font-size="28" text-anchor="start" fill="#000" >y = 0 mm</text>
<text x="1599.90" y="629.80" font-size="28" text-anchor="start" fill="#000" >x</text>
<text x="1704.60" y="629.80" font-size="28" text-anchor="start" fill="#000" >x = 0 mm</text>
<text x="1863.20" y="629.80" font-size="28" text-anchor="start" fill="#000" >y</text>
<text x="1444.40" y="953.90" font-size="28" text-anchor="start" fill="#000" >z = 10 mm</text>
<text x="1602.30" y="953.90" font-size="28" text-anchor="start" fill="#000" >x</text>
<text x="1704.60" y="953.90" font-size="28" text-anchor="start" fill="#000" >z = 20 mm</text>
<text x="1863.20" y="953.90" font-size="28" text-anchor="start" fill="#000" >x</text>
<text x="1453.10" y="668.60" font-size="28" text-anchor="start" fill="#000" >1</text>
<text x="1713.00" y="668.60" font-size="28" text-anchor="start" fill="#000" >2</text>
<text x="1452.10" y="992.40" font-size="28" text-anchor="start" fill="#000" >3</text>
<text x="1713.00" y="992.40" font-size="28" text-anchor="start" fill="#000" >4</text>
<text x="1678.20" y="706.50" font-size="28" text-anchor="start" fill="#000" >z</text>
<text x="1936.40" y="706.50" font-size="28" text-anchor="start" fill="#000" >z</text>
<text x="1678.20" y="1028.00" font-size="28" text-anchor="start" fill="#000" >y</text>
<text x="1936.40" y="1028.00" font-size="28" text-anchor="start" fill="#000" >y</text>
<text x="1578.00" y="883.00" font-size="28" text-anchor="start" fill="#000" >5 mm</text>
<rect x="1587.10" y="898.20" width="57.30" height="6.40" fill="#000" />
<line x1="1671.60" y1="639.10" x2="1629.80" y2="639.10" stroke="#000" stroke-width="3.6" stroke-linecap="butt"/>
<polygon points="1612.30,639.10 1628.80,631.10 1628.80,647.10" fill="#000" />
<line x1="1669.80" y1="637.30" x2="1669.80" y2="681.10" stroke="#000" stroke-width="3.6" stroke-linecap="butt"/>
<polygon points="1669.80,697.60 1661.80,680.10 1677.80,680.10" fill="#000" />
<line x1="1933.20" y1="639.10" x2="1891.40" y2="639.10" stroke="#000" stroke-width="3.6" stroke-linecap="butt"/>
<polygon points="1873.90,639.10 1890.40,631.10 1890.40,647.10" fill="#000" />
<line x1="1931.40" y1="637.30" x2="1931.40" y2="681.10" stroke="#000" stroke-width="3.6" stroke-linecap="butt"/>
<polygon points="1931.40,697.60 1923.40,680.10 1939.40,680.10" fill="#000" />
<line x1="1671.60" y1="961.80" x2="1629.80" y2="961.80" stroke="#000" stroke-width="3.6" stroke-linecap="butt"/>
<polygon points="1612.30,961.80 1628.80,953.80 1628.80,969.80" fill="#000" />
<line x1="1669.80" y1="960.00" x2="1669.80" y2="1003.80" stroke="#000" stroke-width="3.6" stroke-linecap="butt"/>
<polygon points="1669.80,1020.30 1661.80,1002.80 1677.80,1002.80" fill="#000" />
<line x1="1933.20" y1="961.80" x2="1891.40" y2="961.80" stroke="#000" stroke-width="3.6" stroke-linecap="butt"/>
<polygon points="1873.90,961.80 1890.40,953.80 1890.40,969.80" fill="#000" />
<line x1="1931.40" y1="960.00" x2="1931.40" y2="1003.80" stroke="#000" stroke-width="3.6" stroke-linecap="butt"/>
<polygon points="1931.40,1020.30 1923.40,1002.80 1939.40,1002.80" fill="#000" />
<line x1="116.50" y1="1477.60" x2="566.70" y2="1477.60" stroke="#ff0000" stroke-width="3.6" stroke-linecap="butt" stroke-dasharray="15.2 18.6"/>
<path d="M112.18,1570.84C112.72,1571.56 114.17,1575.56 115.45,1575.19C116.72,1574.83 118.35,1570.47 119.80,1568.66C121.25,1566.84 122.71,1564.48 124.16,1564.30C125.61,1564.12 127.06,1566.48 128.51,1567.57C129.97,1568.66 131.24,1571.75 132.87,1570.84C134.50,1569.93 136.68,1564.67 138.32,1562.12C139.95,1559.58 141.22,1555.59 142.67,1555.59C144.12,1555.59 145.40,1559.40 147.03,1562.12C148.66,1564.85 150.84,1570.84 152.47,1571.93C154.11,1573.02 155.56,1569.57 156.83,1568.66C158.10,1567.75 158.83,1566.12 160.10,1566.48C161.37,1566.84 163.18,1569.93 164.45,1570.84C165.72,1571.75 166.45,1573.56 167.72,1571.93C168.99,1570.29 170.44,1564.48 172.08,1561.04C173.71,1557.59 175.89,1551.23 177.52,1551.23C179.16,1551.23 180.43,1557.22 181.88,1561.04C183.33,1564.85 184.97,1571.75 186.24,1574.10C187.51,1576.46 188.23,1576.28 189.50,1575.19C190.77,1574.10 192.59,1569.39 193.86,1567.57C195.13,1565.76 195.86,1564.30 197.13,1564.30C198.40,1564.30 200.03,1566.66 201.48,1567.57C202.94,1568.48 204.21,1570.66 205.84,1569.75C207.47,1568.84 209.65,1563.94 211.29,1562.12C212.92,1560.31 214.19,1558.31 215.64,1558.86C217.09,1559.40 218.36,1563.03 220.00,1565.39C221.63,1567.75 223.81,1573.02 225.44,1573.02C227.08,1573.02 228.64,1566.66 229.80,1565.39C230.96,1564.12 231.51,1563.21 232.41,1565.39C233.32,1567.57 234.23,1572.65 235.25,1578.46C236.26,1584.27 237.68,1596.07 238.51,1600.24C239.35,1604.42 239.53,1604.96 240.25,1603.51C240.98,1602.06 242.00,1602.24 242.87,1591.53C243.74,1580.82 244.68,1558.13 245.48,1539.25C246.28,1520.38 247.01,1491.70 247.66,1478.27C248.31,1464.83 248.82,1461.93 249.40,1458.66C249.98,1455.39 250.49,1451.76 251.15,1458.66C251.80,1465.56 252.53,1479.35 253.32,1500.05C254.12,1520.74 255.14,1556.32 255.94,1582.82C256.74,1609.32 257.39,1640.18 258.12,1659.05C258.84,1677.93 259.64,1691.36 260.29,1696.08C260.95,1700.80 261.31,1698.99 262.04,1687.37C262.76,1675.75 263.78,1648.16 264.65,1626.38C265.52,1604.60 266.47,1574.10 267.26,1556.68C268.06,1539.25 268.86,1528.54 269.44,1521.83C270.02,1515.11 270.17,1514.93 270.75,1516.38C271.33,1517.84 272.20,1524.55 272.93,1530.54C273.65,1536.53 274.38,1546.88 275.11,1552.32C275.83,1557.77 276.49,1562.85 277.28,1563.21C278.08,1563.58 278.92,1558.86 279.90,1554.50C280.88,1550.14 282.15,1540.34 283.16,1537.08C284.18,1533.81 285.09,1533.45 286.00,1534.90C286.90,1536.35 287.63,1539.62 288.61,1545.79C289.59,1551.96 290.79,1563.58 291.88,1571.93C292.97,1580.28 294.16,1590.99 295.14,1595.89C296.13,1600.79 296.85,1602.42 297.76,1601.33C298.67,1600.24 299.57,1596.07 300.59,1589.35C301.61,1582.64 302.77,1569.02 303.86,1561.04C304.95,1553.05 306.33,1545.24 307.12,1541.43C307.92,1537.62 307.92,1536.71 308.65,1538.16C309.38,1539.62 310.46,1544.15 311.48,1550.14C312.50,1556.13 313.66,1567.75 314.75,1574.10C315.84,1580.46 317.11,1585.72 318.02,1588.26C318.92,1590.80 319.29,1591.71 320.19,1589.35C321.10,1586.99 322.37,1578.82 323.46,1574.10C324.55,1569.39 325.64,1563.94 326.73,1561.04C327.82,1558.13 328.91,1556.86 330.00,1556.68C331.08,1556.50 332.17,1558.68 333.26,1559.95C334.35,1561.22 335.41,1564.48 336.53,1564.30C337.65,1564.12 338.70,1559.95 340.00,1558.86C341.30,1557.77 342.90,1555.95 344.36,1557.77C345.81,1559.58 347.44,1567.21 348.71,1569.75C349.98,1572.29 350.71,1574.47 351.98,1573.02C353.25,1571.56 354.70,1564.67 356.34,1561.04C357.97,1557.41 360.15,1551.60 361.78,1551.23C363.42,1550.87 364.69,1555.05 366.14,1558.86C367.59,1562.67 368.86,1570.29 370.49,1574.10C372.13,1577.92 374.31,1581.37 375.94,1581.73C377.57,1582.09 378.84,1580.09 380.30,1576.28C381.75,1572.47 383.09,1562.67 384.65,1558.86C386.21,1555.05 388.21,1553.05 389.66,1553.41C391.11,1553.78 392.20,1556.68 393.37,1561.04C394.53,1565.39 395.54,1575.56 396.63,1579.55C397.72,1583.54 398.81,1585.00 399.90,1585.00C400.99,1585.00 401.90,1583.54 403.17,1579.55C404.44,1575.56 406.25,1564.85 407.52,1561.04C408.79,1557.22 409.52,1557.22 410.79,1556.68C412.06,1556.13 413.69,1557.04 415.15,1557.77C416.60,1558.49 417.87,1559.22 419.50,1561.04C421.14,1562.85 422.95,1566.30 424.95,1568.66C426.95,1571.02 429.67,1575.01 431.48,1575.19C433.30,1575.38 434.39,1572.83 435.84,1569.75C437.29,1566.66 438.74,1559.40 440.20,1556.68C441.65,1553.96 443.10,1552.50 444.55,1553.41C446.00,1554.32 447.46,1559.58 448.91,1562.12C450.36,1564.67 451.63,1568.48 453.27,1568.66C454.90,1568.84 457.08,1564.48 458.71,1563.21C460.34,1561.94 461.61,1560.49 463.07,1561.04C464.52,1561.58 465.97,1564.12 467.42,1566.48C468.88,1568.84 470.51,1573.56 471.78,1575.19C473.05,1576.83 473.59,1577.01 475.05,1576.28C476.50,1575.56 478.31,1573.38 480.49,1570.84C482.67,1568.30 485.76,1563.76 488.12,1561.04C490.48,1558.31 492.84,1554.86 494.65,1554.50C496.47,1554.14 497.55,1556.50 499.01,1558.86C500.46,1561.22 501.55,1566.12 503.36,1568.66C505.18,1571.20 507.72,1573.92 509.90,1574.10C512.08,1574.29 513.89,1571.75 516.43,1569.75C518.97,1567.75 522.79,1562.85 525.14,1562.12C527.50,1561.40 528.59,1564.05 530.59,1565.39C532.59,1566.74 535.13,1570.37 537.12,1570.18C539.12,1570.00 540.57,1566.63 542.57,1564.30C544.57,1561.98 547.29,1556.79 549.10,1556.24C550.92,1555.70 552.01,1558.60 553.46,1561.04C554.91,1563.47 556.18,1569.02 557.82,1570.84C559.45,1572.65 561.63,1572.11 563.26,1571.93C564.90,1571.75 566.89,1570.11 567.62,1569.75" fill="none" stroke="#000" stroke-width="3.9" stroke-linejoin="round" stroke-linecap="round"/>
<path d="M112.18,1692.82C112.90,1691.54 114.90,1690.09 116.53,1685.19C118.17,1680.29 120.16,1669.76 121.98,1663.41C123.80,1657.06 125.25,1650.78 127.43,1647.07C129.60,1643.37 132.51,1640.28 135.05,1641.19C137.59,1642.10 140.13,1645.19 142.67,1652.52C145.21,1659.85 148.30,1676.12 150.30,1685.19C152.29,1694.27 153.56,1702.44 154.65,1706.97C155.74,1711.51 156.07,1712.42 156.83,1712.42C157.59,1712.42 158.32,1710.42 159.23,1706.97C160.13,1703.52 160.86,1702.25 162.28,1691.73C163.69,1681.20 165.54,1657.24 167.72,1643.81C169.90,1630.37 172.62,1618.29 175.35,1611.13C178.07,1603.98 181.34,1600.90 184.06,1600.90C186.78,1600.90 189.32,1603.62 191.68,1611.13C194.04,1618.65 196.51,1632.55 198.22,1645.98C199.92,1659.42 200.94,1676.84 201.92,1691.73C202.90,1706.61 203.55,1726.94 204.10,1735.29C204.64,1743.64 204.82,1741.82 205.19,1741.82C205.55,1741.82 205.73,1743.64 206.28,1735.29C206.82,1726.94 207.62,1708.06 208.45,1691.73C209.29,1675.39 210.27,1653.97 211.29,1637.27C212.30,1620.57 213.28,1606.41 214.55,1591.53C215.82,1576.65 217.46,1559.58 218.91,1547.97C220.36,1536.35 221.63,1529.82 223.27,1521.83C224.90,1513.84 226.71,1507.13 228.71,1500.05C230.71,1492.97 232.89,1485.71 235.25,1479.35C237.60,1473.00 240.15,1466.65 242.87,1461.93C245.59,1457.21 248.31,1453.47 251.58,1451.04C254.85,1448.61 258.84,1447.52 262.47,1447.34C266.10,1447.15 269.73,1449.15 273.36,1449.95C276.99,1450.75 280.99,1452.31 284.25,1452.13C287.52,1451.95 290.06,1450.86 292.97,1448.86C295.87,1446.86 298.78,1443.41 301.68,1440.15C304.58,1436.88 307.49,1432.34 310.39,1429.26C313.30,1426.17 316.20,1423.45 319.10,1421.63C322.01,1419.82 324.91,1418.55 327.82,1418.37C330.72,1418.18 334.50,1419.93 336.53,1420.54C338.56,1421.16 338.33,1420.80 340.00,1422.07C341.67,1423.34 344.36,1425.70 346.53,1428.17C348.71,1430.64 350.89,1433.25 353.07,1436.88C355.25,1440.51 357.43,1445.23 359.60,1449.95C361.78,1454.67 363.96,1459.57 366.14,1465.20C368.32,1470.82 370.49,1477.18 372.67,1483.71C374.85,1490.25 377.03,1498.05 379.21,1504.40C381.39,1510.76 383.56,1516.75 385.74,1521.83C387.92,1526.91 390.10,1531.45 392.28,1534.90C394.45,1538.35 396.63,1540.52 398.81,1542.52C400.99,1544.52 403.17,1545.24 405.35,1546.88C407.52,1548.51 409.70,1549.96 411.88,1552.32C414.06,1554.68 416.24,1557.41 418.41,1561.04C420.59,1564.67 422.77,1568.66 424.95,1574.10C427.13,1579.55 429.31,1586.81 431.48,1593.71C433.66,1600.61 436.02,1609.14 438.02,1615.49C440.01,1621.84 441.65,1627.83 443.46,1631.83C445.28,1635.82 447.28,1637.63 448.91,1639.45C450.54,1641.27 451.63,1642.17 453.27,1642.72C454.90,1643.26 456.90,1642.54 458.71,1642.72C460.53,1642.90 462.34,1642.54 464.16,1643.81C465.97,1645.08 467.79,1647.07 469.60,1650.34C471.42,1653.61 473.05,1658.33 475.05,1663.41C477.04,1668.49 479.58,1675.03 481.58,1680.84C483.58,1686.64 485.39,1693.98 487.03,1698.26C488.66,1702.54 490.11,1705.63 491.38,1706.54C492.65,1707.45 493.38,1706.17 494.65,1703.71C495.92,1701.24 497.37,1696.26 499.01,1691.73C500.64,1687.19 502.64,1680.11 504.45,1676.48C506.27,1672.85 508.08,1671.22 509.90,1669.94C511.71,1668.67 513.53,1668.49 515.34,1668.86C517.16,1669.22 518.79,1669.40 520.79,1672.12C522.79,1674.85 525.14,1679.75 527.32,1685.19C529.50,1690.64 531.86,1698.99 533.86,1704.80C535.85,1710.60 537.49,1716.30 539.30,1720.04C541.12,1723.78 543.11,1727.23 544.75,1727.23C546.38,1727.23 547.47,1723.78 549.10,1720.04C550.74,1716.30 552.74,1709.15 554.55,1704.80C556.37,1700.44 558.18,1696.81 560.00,1693.90C561.81,1691.00 564.17,1688.64 565.44,1687.37C566.71,1686.10 567.26,1686.46 567.62,1686.28" fill="none" stroke="#ff0000" stroke-width="3.9" stroke-linejoin="round" stroke-linecap="round"/>
<line x1="112.30" y1="1369.60" x2="112.30" y2="1762.75" stroke="#000" stroke-width="3.5" stroke-linecap="butt"/>
<line x1="110.55" y1="1761.00" x2="566.70" y2="1761.00" stroke="#000" stroke-width="3.5" stroke-linecap="butt"/>
<line x1="110.55" y1="1369.60" x2="568.45" y2="1369.60" stroke="#ff0000" stroke-width="3.5" stroke-linecap="butt"/>
<line x1="566.70" y1="1369.60" x2="566.70" y2="1762.75" stroke="#ff0000" stroke-width="3.5" stroke-linecap="butt"/>
<line x1="112.30" y1="1435.30" x2="119.30" y2="1435.30" stroke="#000" stroke-width="3" stroke-linecap="butt"/>
<line x1="112.30" y1="1568.00" x2="119.30" y2="1568.00" stroke="#000" stroke-width="3" stroke-linecap="butt"/>
<line x1="112.30" y1="1695.70" x2="119.30" y2="1695.70" stroke="#000" stroke-width="3" stroke-linecap="butt"/>
<line x1="339.50" y1="1761.00" x2="339.50" y2="1754.00" stroke="#000" stroke-width="3" stroke-linecap="butt"/>
<line x1="339.50" y1="1369.60" x2="339.50" y2="1376.60" stroke="#ff0000" stroke-width="3" stroke-linecap="butt"/>
<line x1="112.30" y1="1367.85" x2="112.30" y2="1377.60" stroke="#ff0000" stroke-width="3.5" stroke-linecap="butt"/>
<line x1="566.70" y1="1467.50" x2="559.70" y2="1467.50" stroke="#ff0000" stroke-width="3" stroke-linecap="butt"/>
<line x1="566.70" y1="1565.30" x2="559.70" y2="1565.30" stroke="#ff0000" stroke-width="3" stroke-linecap="butt"/>
<line x1="566.70" y1="1663.20" x2="559.70" y2="1663.20" stroke="#ff0000" stroke-width="3" stroke-linecap="butt"/>
<text x="100.50" y="1445.10" font-size="28" text-anchor="end" fill="#000" >1</text>
<text x="100.50" y="1577.80" font-size="28" text-anchor="end" fill="#000" >0</text>
<text x="100.50" y="1705.50" font-size="28" text-anchor="end" fill="#000" >-1</text>
<text x="112.30" y="1797.00" font-size="28" text-anchor="middle" fill="#000" >10</text>
<text x="339.50" y="1797.00" font-size="28" text-anchor="middle" fill="#000" >15</text>
<text x="566.70" y="1797.00" font-size="28" text-anchor="middle" fill="#000" >20</text>
<text x="110.80" y="1352.90" font-size="28" text-anchor="middle" fill="#ff0000" >0.0</text>
<text x="339.00" y="1352.90" font-size="28" text-anchor="middle" fill="#ff0000" >2.5</text>
<text x="566.70" y="1352.90" font-size="28" text-anchor="middle" fill="#ff0000" >5.0</text>
<text x="583.50" y="1379.40" font-size="28" text-anchor="start" fill="#ff0000" >5</text>
<text x="583.50" y="1477.30" font-size="28" text-anchor="start" fill="#ff0000" >-5</text>
<text x="583.50" y="1575.10" font-size="28" text-anchor="start" fill="#ff0000" >-15</text>
<text x="583.50" y="1673.00" font-size="28" text-anchor="start" fill="#ff0000" >-25</text>
<text x="583.50" y="1770.80" font-size="28" text-anchor="start" fill="#ff0000" >-35</text>
<text x="340.40" y="1304.20" font-size="28" text-anchor="middle" fill="#ff0000" >Frequency (MHz)</text>
<text x="340.00" y="1829.00" font-size="28" text-anchor="middle" fill="#000" >Time (μs)</text>
<text x="408.40" y="1463.20" font-size="28" text-anchor="start" fill="#ff0000" >-6 dB</text>
<text x="21.50" y="1564.60" font-size="28" text-anchor="middle" fill="#000" transform="rotate(-90 21.50 1564.60)" >Normalized</text>
<text x="60.30" y="1564.60" font-size="28" text-anchor="middle" fill="#000" transform="rotate(-90 60.30 1564.60)" >photoacoustic amplitude</text>
<text x="650.30" y="1564.60" font-size="28" text-anchor="middle" fill="#ff0000" transform="rotate(90 650.30 1564.60)" >Magnitude (dB)</text>
<text x="0.00" y="1290.00" font-size="27" text-anchor="start" fill="#000" font-weight="bold" >e</text>
<g clip-path="url(#fc)">
<rect x="730.40" y="1314.00" width="374.00" height="186.80" fill="#060000" />
<ellipse cx="828" cy="1382" rx="58" ry="38" fill="url(#fg2)"/>
<ellipse cx="800" cy="1492" rx="34" ry="30" fill="url(#fg2)" opacity="0.9"/>
<ellipse cx="992" cy="1380" rx="40" ry="34" fill="url(#fg2)" opacity="0.45"/>
<ellipse cx="880" cy="1400" rx="50" ry="40" fill="url(#fg2)" opacity="0.7"/>
<ellipse cx="912.8" cy="1407.1" rx="66" ry="76" fill="url(#fg1)"/>
</g>
<line x1="912.80" y1="1314.50" x2="912.80" y2="1497.00" stroke="#ff2020" stroke-width="3.2" stroke-linecap="butt" stroke-dasharray="12.6 8.4"/>
<line x1="822.50" y1="1407.30" x2="1004.30" y2="1407.30" stroke="#1a57a5" stroke-width="3.0" stroke-linecap="butt" stroke-dasharray="12.6 8.4"/>
<circle cx="913.0" cy="1407.1" r="4.5" fill="#fff"/>
<line x1="847.70" y1="1448.50" x2="884.20" y2="1427.19" stroke="#fff" stroke-width="4.6" stroke-linecap="butt"/>
<polygon points="903.20,1416.10 887.87,1435.47 883.34,1427.70 878.80,1419.92" fill="#fff" />
<text x="780.70" y="1470.20" font-size="27.5" text-anchor="start" fill="#fff" >Hair</text>
<text x="1013.30" y="1460.60" font-size="27.5" text-anchor="start" fill="#fff" >1 mm</text>
<rect x="1032.30" y="1481.20" width="37.70" height="6.60" fill="#fff" />
<text x="1034.70" y="1298.40" font-size="27.5" text-anchor="start" fill="#000" >x</text>
<text x="1114.00" y="1381.00" font-size="27.5" text-anchor="start" fill="#000" >z</text>
<line x1="1113.70" y1="1303.20" x2="1070.00" y2="1303.20" stroke="#000" stroke-width="3.2" stroke-linecap="butt"/>
<polygon points="1054.00,1303.20 1071.00,1295.70 1071.00,1310.70" fill="#000" />
<line x1="1112.20" y1="1301.60" x2="1112.20" y2="1343.00" stroke="#000" stroke-width="3.2" stroke-linecap="butt"/>
<polygon points="1112.20,1359.30 1104.40,1342.00 1120.00,1342.00" fill="#000" />
<rect x="1148.40" y="1319.30" width="27.20" height="153.70" fill="url(#cbf)" />
<text x="1161.00" y="1307.40" font-size="27.5" text-anchor="middle" fill="#000" >1</text>
<text x="1161.00" y="1505.00" font-size="27.5" text-anchor="middle" fill="#000" >0</text>
<text x="1260.50" y="1399.30" font-size="27.5" text-anchor="middle" fill="#000" transform="rotate(90 1260.50 1399.30)" >Normalized</text>
<text x="1225.50" y="1399.30" font-size="27.5" text-anchor="middle" fill="#000" transform="rotate(90 1225.50 1399.30)" >photoacoustic</text>
<text x="1188.50" y="1399.30" font-size="27.5" text-anchor="middle" fill="#000" transform="rotate(90 1188.50 1399.30)" >amplitude</text>
<text x="868.20" y="1583.50" font-size="27.5" text-anchor="middle" fill="#000" >Lateral resolution</text>
<text x="1166.00" y="1583.50" font-size="27.5" text-anchor="middle" fill="#000" >Axial resolution</text>
<text x="741.60" y="1711.70" font-size="27.5" text-anchor="start" fill="#000" >1 mm</text>
<rect x="748.10" y="1731.50" width="55.90" height="6.80" fill="#000" />
<text x="913.60" y="1733.50" font-size="27.5" text-anchor="start" fill="#000" >FWHM</text>
<text x="712.00" y="1290.00" font-size="27" text-anchor="start" fill="#000" font-weight="bold" >f</text>
<path d="M737.98,1813.03C740.28,1812.74 747.54,1812.02 751.77,1811.29C756.00,1810.57 759.75,1809.16 763.38,1808.68C767.01,1808.20 770.15,1808.63 773.54,1808.39C776.93,1808.15 780.80,1808.15 783.70,1807.23C786.60,1806.31 788.78,1804.57 790.96,1802.87C793.13,1801.18 795.07,1799.00 796.76,1797.07C798.46,1795.13 799.67,1793.20 801.12,1791.26C802.57,1789.33 804.14,1787.51 805.47,1785.46C806.80,1783.40 807.77,1781.10 809.10,1778.93C810.43,1776.75 812.00,1773.97 813.45,1772.39C814.91,1770.82 816.24,1769.61 817.81,1769.49C819.38,1769.37 821.32,1770.22 822.89,1771.67C824.46,1773.12 825.79,1775.90 827.24,1778.20C828.69,1780.50 830.02,1783.28 831.60,1785.46C833.17,1787.63 834.98,1791.02 836.68,1791.26C838.37,1791.50 840.43,1789.09 841.76,1786.91C843.09,1784.73 843.74,1781.59 844.66,1778.20C845.58,1774.81 846.35,1771.06 847.27,1766.59C848.19,1762.11 849.25,1757.16 850.17,1751.35C851.09,1745.54 851.89,1738.17 852.79,1731.76C853.68,1725.35 854.60,1719.42 855.54,1712.89C856.49,1706.36 857.48,1699.10 858.45,1692.57C859.41,1686.04 860.58,1679.75 861.35,1673.70C862.12,1667.65 862.44,1661.00 863.09,1656.28C863.74,1651.57 864.35,1648.30 865.27,1645.40C866.19,1642.50 867.45,1638.87 868.61,1638.87C869.77,1638.87 871.27,1642.50 872.24,1645.40C873.20,1648.30 873.73,1651.57 874.41,1656.28C875.09,1661.00 875.52,1667.65 876.30,1673.70C877.07,1679.75 878.16,1686.04 879.06,1692.57C879.95,1699.10 880.75,1706.36 881.67,1712.89C882.59,1719.42 883.60,1725.35 884.57,1731.76C885.54,1738.17 886.51,1745.18 887.47,1751.35C888.44,1757.52 889.58,1764.29 890.38,1768.77C891.18,1773.24 891.66,1775.66 892.26,1778.20C892.87,1780.74 893.35,1781.59 894.01,1784.01C894.66,1786.42 895.34,1789.93 896.18,1792.71C897.03,1795.50 898.12,1798.88 899.09,1800.70C900.05,1802.51 900.78,1803.19 901.99,1803.60C903.20,1804.01 904.77,1804.01 906.34,1803.16C907.91,1802.32 909.61,1800.14 911.42,1798.52C913.24,1796.90 915.29,1794.53 917.23,1793.44C919.16,1792.35 921.10,1791.99 923.03,1791.99C924.97,1791.99 926.66,1792.23 928.84,1793.44C931.02,1794.65 933.43,1797.07 936.10,1799.25C938.76,1801.42 941.66,1804.57 944.80,1806.50C947.95,1808.44 950.85,1809.82 954.96,1810.86C959.08,1811.90 961.37,1812.38 969.48,1812.74C977.58,1813.11 997.90,1812.99 1003.58,1813.03" fill="none" stroke="#000" stroke-width="3.6" stroke-linecap="round" stroke-dasharray="0.1 4.6" />
<path d="M737.98,1813.03C740.28,1812.74 747.54,1812.02 751.77,1811.29C756.00,1810.57 759.75,1809.16 763.38,1808.68C767.01,1808.20 770.15,1808.63 773.54,1808.39C776.93,1808.15 780.80,1808.15 783.70,1807.23C786.60,1806.31 788.78,1804.57 790.96,1802.87C793.13,1801.18 795.07,1799.00 796.76,1797.07C798.46,1795.13 799.67,1793.20 801.12,1791.26C802.57,1789.33 804.14,1787.51 805.47,1785.46C806.80,1783.40 807.77,1781.10 809.10,1778.93C810.43,1776.75 812.00,1773.97 813.45,1772.39C814.91,1770.82 816.24,1769.61 817.81,1769.49C819.38,1769.37 821.32,1770.22 822.89,1771.67C824.46,1773.12 825.79,1775.90 827.24,1778.20C828.69,1780.50 830.02,1783.28 831.60,1785.46C833.17,1787.63 834.98,1791.02 836.68,1791.26C838.37,1791.50 840.43,1789.09 841.76,1786.91C843.09,1784.73 844.18,1779.65 844.66,1778.20" fill="none" stroke="#000" stroke-width="3.6" stroke-linecap="round" stroke-linejoin="round"/>
<path d="M894.01,1784.01C894.37,1785.46 895.34,1789.93 896.18,1792.71C897.03,1795.50 898.12,1798.88 899.09,1800.70C900.05,1802.51 900.78,1803.19 901.99,1803.60C903.20,1804.01 904.77,1804.01 906.34,1803.16C907.91,1802.32 909.61,1800.14 911.42,1798.52C913.24,1796.90 915.29,1794.53 917.23,1793.44C919.16,1792.35 921.10,1791.99 923.03,1791.99C924.97,1791.99 926.66,1792.23 928.84,1793.44C931.02,1794.65 933.43,1797.07 936.10,1799.25C938.76,1801.42 941.66,1804.57 944.80,1806.50C947.95,1808.44 950.85,1809.82 954.96,1810.86C959.08,1811.90 961.37,1812.38 969.48,1812.74C977.58,1813.11 997.90,1812.99 1003.58,1813.03" fill="none" stroke="#000" stroke-width="3.6" stroke-linecap="round" stroke-linejoin="round"/>
<ellipse cx="868.6" cy="1639" rx="3.6" ry="2.6" fill="#000"/>
<polyline points="738.00,1815.40 740.23,1815.40 742.46,1815.40 744.70,1815.40 746.93,1815.40 749.16,1815.40 751.39,1815.40 753.62,1815.40 755.86,1815.40 758.09,1815.40 760.32,1815.40 762.55,1815.40 764.78,1815.40 767.02,1815.40 769.25,1815.40 771.48,1815.40 773.71,1815.40 775.94,1815.40 778.17,1815.40 780.41,1815.40 782.64,1815.40 784.87,1815.40 787.10,1815.40 789.33,1815.40 791.57,1815.40 793.80,1815.40 796.03,1815.40 798.26,1815.40 800.49,1815.40 802.73,1815.39 804.96,1815.38 807.19,1815.37 809.42,1815.34 811.65,1815.29 813.89,1815.21 816.12,1815.08 818.35,1814.86 820.58,1814.50 822.81,1813.96 825.05,1813.12 827.28,1811.89 829.51,1810.12 831.74,1807.62 833.97,1804.20 836.21,1799.64 838.44,1793.73 840.67,1786.27 842.90,1777.11 845.13,1766.21 847.36,1753.63 849.60,1739.58 851.83,1724.42 854.06,1708.69 856.29,1693.04 858.52,1678.26 860.76,1665.15 862.99,1654.49 865.22,1646.95 867.45,1643.02 869.68,1642.96 871.92,1646.79 874.15,1654.23 876.38,1664.81 878.61,1677.86 880.84,1692.60 883.08,1708.23 885.31,1723.98 887.54,1739.16 889.77,1753.25 892.00,1765.88 894.24,1776.83 896.47,1786.03 898.70,1793.54 900.93,1799.50 903.16,1804.09 905.39,1807.54 907.63,1810.06 909.86,1811.85 912.09,1813.09 914.32,1813.94 916.55,1814.49 918.79,1814.85 921.02,1815.07 923.25,1815.21 925.48,1815.29 927.71,1815.34 929.95,1815.37 932.18,1815.38 934.41,1815.39 936.64,1815.40 938.87,1815.40 941.11,1815.40 943.34,1815.40 945.57,1815.40 947.80,1815.40 950.03,1815.40 952.27,1815.40 954.50,1815.40 956.73,1815.40 958.96,1815.40 961.19,1815.40 963.43,1815.40 965.66,1815.40 967.89,1815.40 970.12,1815.40 972.35,1815.40 974.58,1815.40 976.82,1815.40 979.05,1815.40 981.28,1815.40 983.51,1815.40 985.74,1815.40 987.98,1815.40 990.21,1815.40 992.44,1815.40 994.67,1815.40 996.90,1815.40 999.14,1815.40 1001.37,1815.40 1003.60,1815.40" fill="none" stroke="#15509b" stroke-width="2.8" stroke-linejoin="round" stroke-linecap="round" />
<polygon points="851.60,1734.70 868.00,1726.70 868.00,1742.70" fill="#000" />
<polygon points="886.50,1734.70 870.40,1726.70 870.40,1742.70" fill="#000" />
<polyline points="1038.40,1813.80 1039.88,1813.80 1041.37,1813.80 1042.85,1813.80 1044.34,1813.80 1045.82,1813.80 1047.30,1813.80 1048.79,1813.80 1050.27,1813.80 1051.76,1813.80 1053.24,1813.80 1054.72,1813.80 1056.21,1813.80 1057.69,1813.80 1059.18,1813.80 1060.66,1813.80 1062.14,1813.80 1063.63,1813.80 1065.11,1813.80 1066.60,1813.80 1068.08,1813.80 1069.56,1813.80 1071.05,1813.80 1072.53,1813.80 1074.02,1813.80 1075.50,1813.80 1076.98,1813.80 1078.47,1813.80 1079.95,1813.80 1081.44,1813.79 1082.92,1813.79 1084.41,1813.79 1085.89,1813.78 1087.37,1813.78 1088.86,1813.77 1090.34,1813.76 1091.83,1813.74 1093.31,1813.72 1094.79,1813.70 1096.28,1813.66 1097.76,1813.61 1099.25,1813.55 1100.73,1813.48 1102.21,1813.38 1103.70,1813.26 1105.18,1813.10 1106.67,1812.90 1108.15,1812.65 1109.63,1812.34 1111.12,1811.96 1112.60,1811.50 1114.09,1810.93 1115.57,1810.25 1117.05,1809.42 1118.54,1808.44 1120.02,1807.27 1121.51,1805.89 1122.99,1804.28 1124.47,1802.40 1125.96,1800.24 1127.44,1797.75 1128.93,1794.91 1130.41,1791.70 1131.89,1788.09 1133.38,1784.07 1134.86,1779.61 1136.35,1774.70 1137.83,1769.35 1139.31,1763.56 1140.80,1757.33 1142.28,1750.69 1143.77,1743.68 1145.25,1736.34 1146.73,1728.71 1148.22,1720.87 1149.70,1712.88 1151.19,1704.84 1152.67,1696.82 1154.15,1688.94 1155.64,1681.28 1157.12,1673.96 1158.61,1667.08 1160.09,1660.74 1161.57,1655.04 1163.06,1650.06 1164.54,1645.90 1166.03,1642.62 1167.51,1640.27 1168.99,1638.89 1170.48,1638.51 1171.96,1639.13 1173.45,1640.75 1174.93,1643.33 1176.42,1646.83 1177.90,1651.19 1179.38,1656.35 1180.87,1662.21 1182.35,1668.69 1183.84,1675.69 1185.32,1683.10 1186.80,1690.82 1188.29,1698.75 1189.77,1706.78 1191.26,1714.82 1192.74,1722.78 1194.22,1730.57 1195.71,1738.14 1197.19,1745.41 1198.68,1752.33 1200.16,1758.87 1201.64,1765.00 1203.13,1770.68 1204.61,1775.93 1206.10,1780.72 1207.58,1785.08 1209.06,1789.00 1210.55,1792.51 1212.03,1795.63 1213.52,1798.38 1215.00,1800.79" fill="none" stroke="#000" stroke-width="3.8" stroke-linejoin="round" stroke-linecap="round" stroke-dasharray="0.1 5.2"/>
<polyline points="1038.40,1813.80 1039.88,1813.80 1041.37,1813.80 1042.85,1813.80 1044.34,1813.80 1045.82,1813.80 1047.30,1813.80 1048.79,1813.80 1050.27,1813.80 1051.76,1813.80 1053.24,1813.80 1054.72,1813.80 1056.21,1813.80 1057.69,1813.80 1059.18,1813.80 1060.66,1813.80 1062.14,1813.80 1063.63,1813.80 1065.11,1813.80 1066.60,1813.80 1068.08,1813.80 1069.56,1813.80 1071.05,1813.80 1072.53,1813.80 1074.02,1813.80 1075.50,1813.80 1076.98,1813.80 1078.47,1813.80 1079.95,1813.80 1081.44,1813.79 1082.92,1813.79 1084.41,1813.79 1085.89,1813.78 1087.37,1813.78 1088.86,1813.77 1090.34,1813.76 1091.83,1813.74 1093.31,1813.72 1094.79,1813.70 1096.28,1813.66 1097.76,1813.61 1099.25,1813.55 1100.73,1813.48 1102.21,1813.38 1103.70,1813.26 1105.18,1813.10 1106.67,1812.90 1108.15,1812.65 1109.63,1812.34 1111.12,1811.96 1112.60,1811.50 1114.09,1810.93 1115.57,1810.25 1117.05,1809.42 1118.54,1808.44 1120.02,1807.27 1121.51,1805.89 1122.99,1804.28 1124.47,1802.40" fill="none" stroke="#000" stroke-width="3.8" stroke-linejoin="round" stroke-linecap="round" />
<path d="M1217.23,1811.87C1217.71,1811.63 1218.44,1811.15 1220.13,1810.42C1221.82,1809.70 1225.21,1808.20 1227.39,1807.52C1229.56,1806.84 1231.02,1806.62 1233.19,1806.36C1235.37,1806.09 1238.03,1806.02 1240.45,1805.92C1242.87,1805.82 1245.53,1805.56 1247.71,1805.78C1249.88,1805.99 1251.58,1806.50 1253.51,1807.23C1255.45,1807.95 1257.38,1809.26 1259.32,1810.13C1261.25,1811.00 1262.70,1811.90 1265.12,1812.45C1267.54,1813.01 1270.93,1813.37 1273.83,1813.47C1276.73,1813.57 1279.64,1813.25 1282.54,1813.03C1285.44,1812.82 1287.86,1812.40 1291.25,1812.16C1294.63,1811.92 1300.92,1811.68 1302.86,1811.58" fill="none" stroke="#000" stroke-width="4.2" stroke-linecap="butt"/>
<polyline points="1038.40,1815.60 1040.62,1815.60 1042.85,1815.60 1045.07,1815.60 1047.29,1815.60 1049.51,1815.60 1051.74,1815.60 1053.96,1815.60 1056.18,1815.60 1058.40,1815.60 1060.63,1815.60 1062.85,1815.60 1065.07,1815.60 1067.29,1815.60 1069.52,1815.60 1071.74,1815.60 1073.96,1815.60 1076.19,1815.60 1078.41,1815.60 1080.63,1815.60 1082.85,1815.59 1085.08,1815.59 1087.30,1815.58 1089.52,1815.57 1091.74,1815.56 1093.97,1815.53 1096.19,1815.49 1098.41,1815.43 1100.64,1815.34 1102.86,1815.21 1105.08,1815.02 1107.30,1814.74 1109.53,1814.36 1111.75,1813.82 1113.97,1813.09 1116.19,1812.10 1118.42,1810.78 1120.64,1809.07 1122.86,1806.85 1125.08,1804.05 1127.31,1800.56 1129.53,1796.26 1131.75,1791.09 1133.98,1784.94 1136.20,1777.76 1138.42,1769.53 1140.64,1760.27 1142.87,1750.04 1145.09,1738.96 1147.31,1727.22 1149.53,1715.05 1151.76,1702.74 1153.98,1690.63 1156.20,1679.08 1158.43,1668.47 1160.65,1659.16 1162.87,1651.51 1165.09,1645.79 1167.32,1642.24 1169.54,1641.00 1171.76,1642.11 1173.98,1645.54 1176.21,1651.14 1178.43,1658.69 1180.65,1667.91 1182.87,1678.46 1185.10,1689.97 1187.32,1702.06 1189.54,1714.37 1191.77,1726.56 1193.99,1738.33 1196.21,1749.45 1198.43,1759.73 1200.66,1769.05 1202.88,1777.33 1205.10,1784.57 1207.32,1790.77 1209.55,1796.00 1211.77,1800.34 1213.99,1803.88 1216.22,1806.72 1218.44,1808.96 1220.66,1810.70 1222.88,1812.03 1225.11,1813.04 1227.33,1813.79 1229.55,1814.33 1231.77,1814.73 1234.00,1815.01 1236.22,1815.20 1238.44,1815.34 1240.66,1815.43 1242.89,1815.49 1245.11,1815.53 1247.33,1815.56 1249.56,1815.57 1251.78,1815.58 1254.00,1815.59 1256.22,1815.59 1258.45,1815.60 1260.67,1815.60 1262.89,1815.60 1265.11,1815.60 1267.34,1815.60 1269.56,1815.60 1271.78,1815.60 1274.01,1815.60 1276.23,1815.60 1278.45,1815.60 1280.67,1815.60 1282.90,1815.60 1285.12,1815.60 1287.34,1815.60 1289.56,1815.60 1291.79,1815.60 1294.01,1815.60 1296.23,1815.60 1298.45,1815.60 1300.68,1815.60 1302.90,1815.60" fill="none" stroke="#ff0000" stroke-width="3.0" stroke-linejoin="round" stroke-linecap="round" />
<line x1="1160.00" y1="1734.70" x2="1179.00" y2="1734.70" stroke="#000" stroke-width="4" stroke-linecap="butt"/>
<polygon points="1146.80,1734.70 1162.00,1726.70 1162.00,1742.70" fill="#000" />
<polygon points="1191.80,1734.70 1176.60,1726.70 1176.60,1742.70" fill="#000" />
<line x1="1611.27" y1="1749.30" x2="1611.27" y2="1740.30" stroke="#000" stroke-width="2.6" stroke-linecap="butt"/>
<line x1="1797.34" y1="1749.30" x2="1797.34" y2="1740.30" stroke="#000" stroke-width="2.6" stroke-linecap="butt"/>
<line x1="1425.20" y1="1621.58" x2="1434.20" y2="1621.58" stroke="#000" stroke-width="2.6" stroke-linecap="butt"/>
<line x1="1425.20" y1="1493.86" x2="1434.20" y2="1493.86" stroke="#000" stroke-width="2.6" stroke-linecap="butt"/>
<line x1="1425.20" y1="1366.14" x2="1434.20" y2="1366.14" stroke="#000" stroke-width="2.6" stroke-linecap="butt"/>
<rect x="1425.20" y="1302.40" width="558.20" height="446.90" fill="none" stroke="#000" stroke-width="2.8" />
<polyline points="1527.54,1497.37 1592.66,1482.37 1657.79,1462.57 1722.91,1475.66 1788.04,1475.66 1853.16,1488.11 1918.29,1488.11" fill="none" stroke="#fe0000" stroke-width="3.5" stroke-linejoin="round" stroke-linecap="round" />
<rect x="1519.54" y="1489.37" width="16.00" height="16.00" fill="#fe0000" />
<rect x="1584.66" y="1474.37" width="16.00" height="16.00" fill="#fe0000" />
<rect x="1649.79" y="1454.57" width="16.00" height="16.00" fill="#fe0000" />
<rect x="1714.91" y="1467.66" width="16.00" height="16.00" fill="#fe0000" />
<rect x="1780.04" y="1467.66" width="16.00" height="16.00" fill="#fe0000" />
<rect x="1845.16" y="1480.11" width="16.00" height="16.00" fill="#fe0000" />
<rect x="1910.29" y="1480.11" width="16.00" height="16.00" fill="#fe0000" />
<polyline points="1527.54,1616.31 1592.66,1607.85 1657.79,1598.27 1722.91,1580.71 1788.04,1560.27 1853.16,1550.70 1918.29,1528.98" fill="none" stroke="#14509a" stroke-width="3.5" stroke-linejoin="round" stroke-linecap="round" />
<rect x="1519.54" y="1608.31" width="16.00" height="16.00" fill="#14509a" />
<rect x="1584.66" y="1599.85" width="16.00" height="16.00" fill="#14509a" />
<rect x="1649.79" y="1590.27" width="16.00" height="16.00" fill="#14509a" />
<rect x="1714.91" y="1572.71" width="16.00" height="16.00" fill="#14509a" />
<rect x="1780.04" y="1552.27" width="16.00" height="16.00" fill="#14509a" />
<rect x="1845.16" y="1542.70" width="16.00" height="16.00" fill="#14509a" />
<rect x="1910.29" y="1520.98" width="16.00" height="16.00" fill="#14509a" />
<line x1="1645.00" y1="1342.10" x2="1762.80" y2="1342.10" stroke="#fe0000" stroke-width="3.5" stroke-linecap="butt"/>
<rect x="1696.00" y="1334.10" width="16.00" height="16.00" fill="#fe0000" />
<text x="1775.40" y="1352.30" font-size="27.5" text-anchor="start" fill="#000" >Axial</text>
<line x1="1645.00" y1="1407.60" x2="1762.80" y2="1407.60" stroke="#14509a" stroke-width="3.5" stroke-linecap="butt"/>
<rect x="1696.00" y="1399.60" width="16.00" height="16.00" fill="#14509a" />
<text x="1775.40" y="1417.80" font-size="27.5" text-anchor="start" fill="#000" >Lateral</text>
<text x="1425.20" y="1782.60" font-size="27.5" text-anchor="middle" fill="#000" >0</text>
<text x="1611.27" y="1782.60" font-size="27.5" text-anchor="middle" fill="#000" >10</text>
<text x="1797.34" y="1782.60" font-size="27.5" text-anchor="middle" fill="#000" >20</text>
<text x="1983.41" y="1782.60" font-size="27.5" text-anchor="middle" fill="#000" >30</text>
<text x="1416.00" y="1759.10" font-size="27.5" text-anchor="end" fill="#000" >0.0</text>
<text x="1416.00" y="1631.38" font-size="27.5" text-anchor="end" fill="#000" >0.4</text>
<text x="1416.00" y="1503.66" font-size="27.5" text-anchor="end" fill="#000" >0.8</text>
<text x="1416.00" y="1375.94" font-size="27.5" text-anchor="end" fill="#000" >1.2</text>
<text x="1706.80" y="1813.10" font-size="27.5" text-anchor="middle" fill="#000" >Depth (mm)</text>
<text x="1362.40" y="1519.60" font-size="27.5" text-anchor="middle" fill="#000" transform="rotate(-90 1362.40 1519.60)" >Resolution (mm)</text>
<text x="1332.00" y="1286.50" font-size="27" text-anchor="start" fill="#000" font-weight="bold" >g</text>
</svg>
</body></html>
